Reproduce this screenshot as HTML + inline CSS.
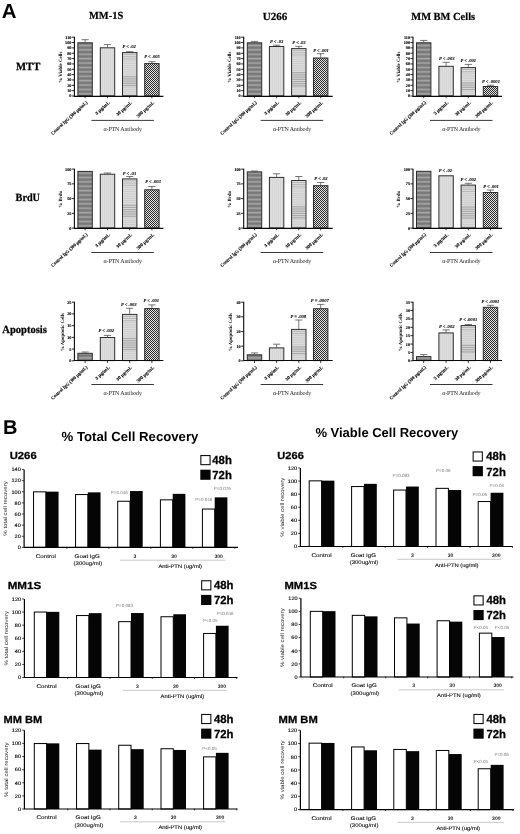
<!DOCTYPE html>
<html><head><meta charset="utf-8"><title>Figure</title>
<style>
html,body{margin:0;padding:0;background:#fff;}
body{width:520px;height:834px;overflow:hidden;font-family:"Liberation Sans",sans-serif;}
svg{display:block;}
</style></head><body>
<svg width="520" height="834" viewBox="0 0 520 834" text-rendering="geometricPrecision">
<defs>
<filter id="soft" x="0" y="0" width="100%" height="100%" filterUnits="userSpaceOnUse" color-interpolation-filters="sRGB"><feGaussianBlur stdDeviation="0.32"/></filter>
<pattern id="p1" width="4" height="4.4" patternUnits="userSpaceOnUse"><rect width="4" height="4.4" fill="#787878"/><rect y="0.6" width="4" height="1.7" fill="#a6a6a6"/></pattern>
<pattern id="p2" width="2" height="4" patternUnits="userSpaceOnUse"><rect width="2" height="4" fill="#dedede"/><rect width="0.6" height="4" fill="#d2d2d2"/></pattern>
<pattern id="p3" width="4" height="2.4" patternUnits="userSpaceOnUse"><rect width="4" height="2.4" fill="#dcdcdc"/><rect width="4" height="0.7" fill="#bdbdbd"/></pattern>
<pattern id="p4" width="2" height="2" patternUnits="userSpaceOnUse"><rect width="2" height="2" fill="#e2e2e2"/><rect width="1" height="1" fill="#2b2b2b"/><rect x="1" y="1" width="1" height="1" fill="#2b2b2b"/></pattern>
</defs>
<rect width="520" height="834" fill="#fff"/>
<g filter="url(#soft)">
<g>
<path d="M85.10 42.30V39.70M81.50 39.70H88.70" stroke="#4a4a4a" stroke-width="0.75" fill="none"/>
<rect x="77.90" y="42.80" width="14.40" height="53.00" fill="url(#p1)" stroke="#2e2e2e" stroke-width="1"/>
<path d="M85.10 96.00v2.2" stroke="#111" stroke-width="0.8"/>
<path d="M107.50 47.30V44.60M103.90 44.60H111.10" stroke="#4a4a4a" stroke-width="0.75" fill="none"/>
<rect x="100.30" y="47.80" width="14.40" height="48.00" fill="url(#p2)" stroke="#2e2e2e" stroke-width="1"/>
<path d="M107.50 96.00v2.2" stroke="#111" stroke-width="0.8"/>
<path d="M129.70 52.10V51.70M126.10 51.70H133.30" stroke="#4a4a4a" stroke-width="0.75" fill="none"/>
<rect x="122.50" y="52.60" width="14.40" height="43.20" fill="#dcdcdc"/>
<rect x="123.00" y="54.10" width="13.40" height="0.9" fill="#b4b4b4"/>
<rect x="123.00" y="56.30" width="13.40" height="0.9" fill="#b4b4b4"/>
<rect x="123.00" y="58.50" width="13.40" height="0.9" fill="#b4b4b4"/>
<rect x="123.00" y="60.70" width="13.40" height="0.6" fill="#c4c4c4"/>
<rect x="123.00" y="62.90" width="13.40" height="0.6" fill="#c4c4c4"/>
<rect x="123.00" y="65.10" width="13.40" height="0.6" fill="#c4c4c4"/>
<rect x="123.00" y="67.30" width="13.40" height="0.6" fill="#c4c4c4"/>
<rect x="123.00" y="69.50" width="13.40" height="0.6" fill="#c4c4c4"/>
<rect x="123.00" y="71.70" width="13.40" height="0.6" fill="#c4c4c4"/>
<rect x="123.00" y="73.90" width="13.40" height="0.6" fill="#c4c4c4"/>
<rect x="123.00" y="76.10" width="13.40" height="1.25" fill="#a9a9a9"/>
<rect x="123.00" y="78.30" width="13.40" height="1.25" fill="#a9a9a9"/>
<rect x="123.00" y="80.50" width="13.40" height="1.25" fill="#a9a9a9"/>
<rect x="123.00" y="82.70" width="13.40" height="1.25" fill="#a9a9a9"/>
<rect x="123.00" y="84.90" width="13.40" height="1.25" fill="#a9a9a9"/>
<rect x="123.00" y="87.10" width="13.40" height="0.6" fill="#c4c4c4"/>
<rect x="123.00" y="89.30" width="13.40" height="0.6" fill="#c4c4c4"/>
<rect x="123.00" y="91.50" width="13.40" height="0.6" fill="#c4c4c4"/>
<rect x="123.00" y="93.70" width="13.40" height="0.6" fill="#c4c4c4"/>
<rect x="122.50" y="52.60" width="14.40" height="43.20" fill="none" stroke="#2e2e2e" stroke-width="1"/>
<path d="M129.70 96.00v2.2" stroke="#111" stroke-width="0.8"/>
<path d="M151.90 63.10V61.70M148.30 61.70H155.50" stroke="#4a4a4a" stroke-width="0.75" fill="none"/>
<rect x="144.70" y="63.60" width="14.40" height="32.20" fill="url(#p4)" stroke="#2e2e2e" stroke-width="1"/>
<path d="M151.90 96.00v2.2" stroke="#111" stroke-width="0.8"/>
<path d="M74.40 36.80V96.35H163.40" stroke="#0a0a0a" stroke-width="1.1" fill="none"/>
<path d="M71.80 96.00H74.40" stroke="#111" stroke-width="0.9"/>
<text x="71.40" y="97.45" font-family="Liberation Serif, serif" font-size="4.2" font-weight="bold" text-anchor="end" fill="#000" stroke="#000" stroke-width="0.12" style="">0</text>
<path d="M71.80 90.65H74.40" stroke="#111" stroke-width="0.9"/>
<text x="71.40" y="92.10" font-family="Liberation Serif, serif" font-size="4.2" font-weight="bold" text-anchor="end" fill="#000" stroke="#000" stroke-width="0.12" style="">10</text>
<path d="M71.80 85.31H74.40" stroke="#111" stroke-width="0.9"/>
<text x="71.40" y="86.76" font-family="Liberation Serif, serif" font-size="4.2" font-weight="bold" text-anchor="end" fill="#000" stroke="#000" stroke-width="0.12" style="">20</text>
<path d="M71.80 79.96H74.40" stroke="#111" stroke-width="0.9"/>
<text x="71.40" y="81.41" font-family="Liberation Serif, serif" font-size="4.2" font-weight="bold" text-anchor="end" fill="#000" stroke="#000" stroke-width="0.12" style="">30</text>
<path d="M71.80 74.62H74.40" stroke="#111" stroke-width="0.9"/>
<text x="71.40" y="76.07" font-family="Liberation Serif, serif" font-size="4.2" font-weight="bold" text-anchor="end" fill="#000" stroke="#000" stroke-width="0.12" style="">40</text>
<path d="M71.80 69.27H74.40" stroke="#111" stroke-width="0.9"/>
<text x="71.40" y="70.72" font-family="Liberation Serif, serif" font-size="4.2" font-weight="bold" text-anchor="end" fill="#000" stroke="#000" stroke-width="0.12" style="">50</text>
<path d="M71.80 63.93H74.40" stroke="#111" stroke-width="0.9"/>
<text x="71.40" y="65.38" font-family="Liberation Serif, serif" font-size="4.2" font-weight="bold" text-anchor="end" fill="#000" stroke="#000" stroke-width="0.12" style="">60</text>
<path d="M71.80 58.58H74.40" stroke="#111" stroke-width="0.9"/>
<text x="71.40" y="60.03" font-family="Liberation Serif, serif" font-size="4.2" font-weight="bold" text-anchor="end" fill="#000" stroke="#000" stroke-width="0.12" style="">70</text>
<path d="M71.80 53.24H74.40" stroke="#111" stroke-width="0.9"/>
<text x="71.40" y="54.69" font-family="Liberation Serif, serif" font-size="4.2" font-weight="bold" text-anchor="end" fill="#000" stroke="#000" stroke-width="0.12" style="">80</text>
<path d="M71.80 47.89H74.40" stroke="#111" stroke-width="0.9"/>
<text x="71.40" y="49.34" font-family="Liberation Serif, serif" font-size="4.2" font-weight="bold" text-anchor="end" fill="#000" stroke="#000" stroke-width="0.12" style="">90</text>
<path d="M71.80 42.55H74.40" stroke="#111" stroke-width="0.9"/>
<text x="71.40" y="44.00" font-family="Liberation Serif, serif" font-size="4.2" font-weight="bold" text-anchor="end" fill="#000" stroke="#000" stroke-width="0.12" style="">100</text>
<path d="M71.80 37.20H74.40" stroke="#111" stroke-width="0.9"/>
<text x="71.40" y="38.65" font-family="Liberation Serif, serif" font-size="4.2" font-weight="bold" text-anchor="end" fill="#000" stroke="#000" stroke-width="0.12" style="">110</text>
<text transform="translate(61.6,67.20) rotate(-90)" font-family="Liberation Serif, serif" font-size="4.9" font-weight="bold" text-anchor="middle" fill="#000" >% Viable Cells</text>
<text x="129.2" y="47.6" font-family="Liberation Serif, serif" font-size="4.6" font-weight="bold" text-anchor="middle" fill="#000" stroke="#000" stroke-width="0.08" style="font-style:italic">P &lt; .02</text>
<text x="152" y="58.0" font-family="Liberation Serif, serif" font-size="4.6" font-weight="bold" text-anchor="middle" fill="#000" stroke="#000" stroke-width="0.08" style="font-style:italic">P &lt; .005</text>
<text transform="translate(87.80,103.00) rotate(-42.5)" font-family="Liberation Serif, serif" font-size="4.8" font-weight="bold" text-anchor="end" fill="#000" textLength="47.6" lengthAdjust="spacingAndGlyphs" stroke="#000" stroke-width="0.1">Control IgG (300 µg/mL)</text>
<text transform="translate(110.20,103.00) rotate(-42.5)" font-family="Liberation Serif, serif" font-size="4.8" font-weight="bold" text-anchor="end" fill="#000" textLength="18.3" lengthAdjust="spacingAndGlyphs" stroke="#000" stroke-width="0.1">3 µg/mL</text>
<text transform="translate(132.40,103.00) rotate(-42.5)" font-family="Liberation Serif, serif" font-size="4.8" font-weight="bold" text-anchor="end" fill="#000" textLength="19.8" lengthAdjust="spacingAndGlyphs" stroke="#000" stroke-width="0.1">30 µg/mL</text>
<text transform="translate(154.60,103.00) rotate(-42.5)" font-family="Liberation Serif, serif" font-size="4.8" font-weight="bold" text-anchor="end" fill="#000" textLength="22.2" lengthAdjust="spacingAndGlyphs" stroke="#000" stroke-width="0.1">300 µg/mL</text>
<path d="M91.40 120.40H153.90" stroke="#222" stroke-width="0.9"/>
<text x="122.70" y="130.70" font-family="Liberation Serif, serif" font-size="6" font-weight="normal" text-anchor="middle" fill="#222" letter-spacing="-0.15" style="">α-PTN Antibody</text>
</g>
<g>
<path d="M254.50 42.30V41.40M250.90 41.40H258.10" stroke="#4a4a4a" stroke-width="0.75" fill="none"/>
<rect x="247.30" y="42.80" width="14.40" height="53.00" fill="url(#p1)" stroke="#2e2e2e" stroke-width="1"/>
<path d="M254.50 96.00v2.2" stroke="#111" stroke-width="0.8"/>
<path d="M276.60 46.00V45.20M273.00 45.20H280.20" stroke="#4a4a4a" stroke-width="0.75" fill="none"/>
<rect x="269.40" y="46.50" width="14.40" height="49.30" fill="url(#p2)" stroke="#2e2e2e" stroke-width="1"/>
<path d="M276.60 96.00v2.2" stroke="#111" stroke-width="0.8"/>
<path d="M298.80 48.10V46.40M295.20 46.40H302.40" stroke="#4a4a4a" stroke-width="0.75" fill="none"/>
<rect x="291.60" y="48.60" width="14.40" height="47.20" fill="#dcdcdc"/>
<rect x="292.10" y="50.10" width="13.40" height="0.9" fill="#b4b4b4"/>
<rect x="292.10" y="52.30" width="13.40" height="0.9" fill="#b4b4b4"/>
<rect x="292.10" y="54.50" width="13.40" height="0.9" fill="#b4b4b4"/>
<rect x="292.10" y="56.70" width="13.40" height="0.6" fill="#c4c4c4"/>
<rect x="292.10" y="58.90" width="13.40" height="0.6" fill="#c4c4c4"/>
<rect x="292.10" y="61.10" width="13.40" height="0.6" fill="#c4c4c4"/>
<rect x="292.10" y="63.30" width="13.40" height="0.6" fill="#c4c4c4"/>
<rect x="292.10" y="65.50" width="13.40" height="0.6" fill="#c4c4c4"/>
<rect x="292.10" y="67.70" width="13.40" height="0.6" fill="#c4c4c4"/>
<rect x="292.10" y="69.90" width="13.40" height="0.6" fill="#c4c4c4"/>
<rect x="292.10" y="72.10" width="13.40" height="1.25" fill="#a9a9a9"/>
<rect x="292.10" y="74.30" width="13.40" height="1.25" fill="#a9a9a9"/>
<rect x="292.10" y="76.50" width="13.40" height="1.25" fill="#a9a9a9"/>
<rect x="292.10" y="78.70" width="13.40" height="1.25" fill="#a9a9a9"/>
<rect x="292.10" y="80.90" width="13.40" height="1.25" fill="#a9a9a9"/>
<rect x="292.10" y="83.10" width="13.40" height="1.25" fill="#a9a9a9"/>
<rect x="292.10" y="85.30" width="13.40" height="1.25" fill="#a9a9a9"/>
<rect x="292.10" y="87.50" width="13.40" height="0.6" fill="#c4c4c4"/>
<rect x="292.10" y="89.70" width="13.40" height="0.6" fill="#c4c4c4"/>
<rect x="292.10" y="91.90" width="13.40" height="0.6" fill="#c4c4c4"/>
<rect x="292.10" y="94.10" width="13.40" height="0.6" fill="#c4c4c4"/>
<rect x="291.60" y="48.60" width="14.40" height="47.20" fill="none" stroke="#2e2e2e" stroke-width="1"/>
<path d="M298.80 96.00v2.2" stroke="#111" stroke-width="0.8"/>
<path d="M320.70 57.50V53.70M317.10 53.70H324.30" stroke="#4a4a4a" stroke-width="0.75" fill="none"/>
<rect x="313.50" y="58.00" width="14.40" height="37.80" fill="url(#p4)" stroke="#2e2e2e" stroke-width="1"/>
<path d="M320.70 96.00v2.2" stroke="#111" stroke-width="0.8"/>
<path d="M243.70 36.80V96.35H332.70" stroke="#0a0a0a" stroke-width="1.1" fill="none"/>
<path d="M241.10 96.00H243.70" stroke="#111" stroke-width="0.9"/>
<text x="240.70" y="97.45" font-family="Liberation Serif, serif" font-size="4.2" font-weight="bold" text-anchor="end" fill="#000" stroke="#000" stroke-width="0.12" style="">0</text>
<path d="M241.10 90.65H243.70" stroke="#111" stroke-width="0.9"/>
<text x="240.70" y="92.10" font-family="Liberation Serif, serif" font-size="4.2" font-weight="bold" text-anchor="end" fill="#000" stroke="#000" stroke-width="0.12" style="">10</text>
<path d="M241.10 85.31H243.70" stroke="#111" stroke-width="0.9"/>
<text x="240.70" y="86.76" font-family="Liberation Serif, serif" font-size="4.2" font-weight="bold" text-anchor="end" fill="#000" stroke="#000" stroke-width="0.12" style="">20</text>
<path d="M241.10 79.96H243.70" stroke="#111" stroke-width="0.9"/>
<text x="240.70" y="81.41" font-family="Liberation Serif, serif" font-size="4.2" font-weight="bold" text-anchor="end" fill="#000" stroke="#000" stroke-width="0.12" style="">30</text>
<path d="M241.10 74.62H243.70" stroke="#111" stroke-width="0.9"/>
<text x="240.70" y="76.07" font-family="Liberation Serif, serif" font-size="4.2" font-weight="bold" text-anchor="end" fill="#000" stroke="#000" stroke-width="0.12" style="">40</text>
<path d="M241.10 69.27H243.70" stroke="#111" stroke-width="0.9"/>
<text x="240.70" y="70.72" font-family="Liberation Serif, serif" font-size="4.2" font-weight="bold" text-anchor="end" fill="#000" stroke="#000" stroke-width="0.12" style="">50</text>
<path d="M241.10 63.93H243.70" stroke="#111" stroke-width="0.9"/>
<text x="240.70" y="65.38" font-family="Liberation Serif, serif" font-size="4.2" font-weight="bold" text-anchor="end" fill="#000" stroke="#000" stroke-width="0.12" style="">60</text>
<path d="M241.10 58.58H243.70" stroke="#111" stroke-width="0.9"/>
<text x="240.70" y="60.03" font-family="Liberation Serif, serif" font-size="4.2" font-weight="bold" text-anchor="end" fill="#000" stroke="#000" stroke-width="0.12" style="">70</text>
<path d="M241.10 53.24H243.70" stroke="#111" stroke-width="0.9"/>
<text x="240.70" y="54.69" font-family="Liberation Serif, serif" font-size="4.2" font-weight="bold" text-anchor="end" fill="#000" stroke="#000" stroke-width="0.12" style="">80</text>
<path d="M241.10 47.89H243.70" stroke="#111" stroke-width="0.9"/>
<text x="240.70" y="49.34" font-family="Liberation Serif, serif" font-size="4.2" font-weight="bold" text-anchor="end" fill="#000" stroke="#000" stroke-width="0.12" style="">90</text>
<path d="M241.10 42.55H243.70" stroke="#111" stroke-width="0.9"/>
<text x="240.70" y="44.00" font-family="Liberation Serif, serif" font-size="4.2" font-weight="bold" text-anchor="end" fill="#000" stroke="#000" stroke-width="0.12" style="">100</text>
<path d="M241.10 37.20H243.70" stroke="#111" stroke-width="0.9"/>
<text x="240.70" y="38.65" font-family="Liberation Serif, serif" font-size="4.2" font-weight="bold" text-anchor="end" fill="#000" stroke="#000" stroke-width="0.12" style="">110</text>
<text transform="translate(230.6,67.20) rotate(-90)" font-family="Liberation Serif, serif" font-size="4.9" font-weight="bold" text-anchor="middle" fill="#000" >% Viable Cells</text>
<text x="276.7" y="43.0" font-family="Liberation Serif, serif" font-size="4.6" font-weight="bold" text-anchor="middle" fill="#000" stroke="#000" stroke-width="0.08" style="font-style:italic">P &lt; .03</text>
<text x="299" y="44.0" font-family="Liberation Serif, serif" font-size="4.6" font-weight="bold" text-anchor="middle" fill="#000" stroke="#000" stroke-width="0.08" style="font-style:italic">P &lt; .03</text>
<text x="321" y="51.6" font-family="Liberation Serif, serif" font-size="4.6" font-weight="bold" text-anchor="middle" fill="#000" stroke="#000" stroke-width="0.08" style="font-style:italic">P &lt; .001</text>
<text transform="translate(257.20,103.00) rotate(-42.5)" font-family="Liberation Serif, serif" font-size="4.8" font-weight="bold" text-anchor="end" fill="#000" textLength="47.6" lengthAdjust="spacingAndGlyphs" stroke="#000" stroke-width="0.1">Control IgG (300 µg/mL)</text>
<text transform="translate(279.30,103.00) rotate(-42.5)" font-family="Liberation Serif, serif" font-size="4.8" font-weight="bold" text-anchor="end" fill="#000" textLength="18.3" lengthAdjust="spacingAndGlyphs" stroke="#000" stroke-width="0.1">3 µg/mL</text>
<text transform="translate(301.50,103.00) rotate(-42.5)" font-family="Liberation Serif, serif" font-size="4.8" font-weight="bold" text-anchor="end" fill="#000" textLength="19.8" lengthAdjust="spacingAndGlyphs" stroke="#000" stroke-width="0.1">30 µg/mL</text>
<text transform="translate(323.40,103.00) rotate(-42.5)" font-family="Liberation Serif, serif" font-size="4.8" font-weight="bold" text-anchor="end" fill="#000" textLength="22.2" lengthAdjust="spacingAndGlyphs" stroke="#000" stroke-width="0.1">300 µg/mL</text>
<path d="M260.70 120.40H323.20" stroke="#222" stroke-width="0.9"/>
<text x="292.00" y="130.70" font-family="Liberation Serif, serif" font-size="6" font-weight="normal" text-anchor="middle" fill="#222" letter-spacing="-0.15" style="">α-PTN Antibody</text>
</g>
<g>
<path d="M423.70 42.30V40.40M420.10 40.40H427.30" stroke="#4a4a4a" stroke-width="0.75" fill="none"/>
<rect x="416.50" y="42.80" width="14.40" height="53.00" fill="url(#p1)" stroke="#2e2e2e" stroke-width="1"/>
<path d="M423.70 96.00v2.2" stroke="#111" stroke-width="0.8"/>
<path d="M446.10 65.80V62.30M442.50 62.30H449.70" stroke="#4a4a4a" stroke-width="0.75" fill="none"/>
<rect x="438.90" y="66.30" width="14.40" height="29.50" fill="url(#p2)" stroke="#2e2e2e" stroke-width="1"/>
<path d="M446.10 96.00v2.2" stroke="#111" stroke-width="0.8"/>
<path d="M468.30 67.10V64.40M464.70 64.40H471.90" stroke="#4a4a4a" stroke-width="0.75" fill="none"/>
<rect x="461.10" y="67.60" width="14.40" height="28.20" fill="#dcdcdc"/>
<rect x="461.60" y="69.10" width="13.40" height="0.9" fill="#b4b4b4"/>
<rect x="461.60" y="71.30" width="13.40" height="0.9" fill="#b4b4b4"/>
<rect x="461.60" y="73.50" width="13.40" height="0.6" fill="#c4c4c4"/>
<rect x="461.60" y="75.70" width="13.40" height="0.6" fill="#c4c4c4"/>
<rect x="461.60" y="77.90" width="13.40" height="0.6" fill="#c4c4c4"/>
<rect x="461.60" y="80.10" width="13.40" height="0.6" fill="#c4c4c4"/>
<rect x="461.60" y="82.30" width="13.40" height="1.25" fill="#a9a9a9"/>
<rect x="461.60" y="84.50" width="13.40" height="1.25" fill="#a9a9a9"/>
<rect x="461.60" y="86.70" width="13.40" height="1.25" fill="#a9a9a9"/>
<rect x="461.60" y="88.90" width="13.40" height="1.25" fill="#a9a9a9"/>
<rect x="461.60" y="91.10" width="13.40" height="0.6" fill="#c4c4c4"/>
<rect x="461.60" y="93.30" width="13.40" height="0.6" fill="#c4c4c4"/>
<rect x="461.10" y="67.60" width="14.40" height="28.20" fill="none" stroke="#2e2e2e" stroke-width="1"/>
<path d="M468.30 96.00v2.2" stroke="#111" stroke-width="0.8"/>
<path d="M490.50 86.00V85.20M486.90 85.20H494.10" stroke="#4a4a4a" stroke-width="0.75" fill="none"/>
<rect x="483.30" y="86.50" width="14.40" height="9.30" fill="url(#p4)" stroke="#2e2e2e" stroke-width="1"/>
<path d="M490.50 96.00v2.2" stroke="#111" stroke-width="0.8"/>
<path d="M413.00 36.80V96.35H502.00" stroke="#0a0a0a" stroke-width="1.1" fill="none"/>
<path d="M410.40 96.00H413.00" stroke="#111" stroke-width="0.9"/>
<text x="410.00" y="97.45" font-family="Liberation Serif, serif" font-size="4.2" font-weight="bold" text-anchor="end" fill="#000" stroke="#000" stroke-width="0.12" style="">0</text>
<path d="M410.40 90.65H413.00" stroke="#111" stroke-width="0.9"/>
<text x="410.00" y="92.10" font-family="Liberation Serif, serif" font-size="4.2" font-weight="bold" text-anchor="end" fill="#000" stroke="#000" stroke-width="0.12" style="">10</text>
<path d="M410.40 85.31H413.00" stroke="#111" stroke-width="0.9"/>
<text x="410.00" y="86.76" font-family="Liberation Serif, serif" font-size="4.2" font-weight="bold" text-anchor="end" fill="#000" stroke="#000" stroke-width="0.12" style="">20</text>
<path d="M410.40 79.96H413.00" stroke="#111" stroke-width="0.9"/>
<text x="410.00" y="81.41" font-family="Liberation Serif, serif" font-size="4.2" font-weight="bold" text-anchor="end" fill="#000" stroke="#000" stroke-width="0.12" style="">30</text>
<path d="M410.40 74.62H413.00" stroke="#111" stroke-width="0.9"/>
<text x="410.00" y="76.07" font-family="Liberation Serif, serif" font-size="4.2" font-weight="bold" text-anchor="end" fill="#000" stroke="#000" stroke-width="0.12" style="">40</text>
<path d="M410.40 69.27H413.00" stroke="#111" stroke-width="0.9"/>
<text x="410.00" y="70.72" font-family="Liberation Serif, serif" font-size="4.2" font-weight="bold" text-anchor="end" fill="#000" stroke="#000" stroke-width="0.12" style="">50</text>
<path d="M410.40 63.93H413.00" stroke="#111" stroke-width="0.9"/>
<text x="410.00" y="65.38" font-family="Liberation Serif, serif" font-size="4.2" font-weight="bold" text-anchor="end" fill="#000" stroke="#000" stroke-width="0.12" style="">60</text>
<path d="M410.40 58.58H413.00" stroke="#111" stroke-width="0.9"/>
<text x="410.00" y="60.03" font-family="Liberation Serif, serif" font-size="4.2" font-weight="bold" text-anchor="end" fill="#000" stroke="#000" stroke-width="0.12" style="">70</text>
<path d="M410.40 53.24H413.00" stroke="#111" stroke-width="0.9"/>
<text x="410.00" y="54.69" font-family="Liberation Serif, serif" font-size="4.2" font-weight="bold" text-anchor="end" fill="#000" stroke="#000" stroke-width="0.12" style="">80</text>
<path d="M410.40 47.89H413.00" stroke="#111" stroke-width="0.9"/>
<text x="410.00" y="49.34" font-family="Liberation Serif, serif" font-size="4.2" font-weight="bold" text-anchor="end" fill="#000" stroke="#000" stroke-width="0.12" style="">90</text>
<path d="M410.40 42.55H413.00" stroke="#111" stroke-width="0.9"/>
<text x="410.00" y="44.00" font-family="Liberation Serif, serif" font-size="4.2" font-weight="bold" text-anchor="end" fill="#000" stroke="#000" stroke-width="0.12" style="">100</text>
<path d="M410.40 37.20H413.00" stroke="#111" stroke-width="0.9"/>
<text x="410.00" y="38.65" font-family="Liberation Serif, serif" font-size="4.2" font-weight="bold" text-anchor="end" fill="#000" stroke="#000" stroke-width="0.12" style="">110</text>
<text transform="translate(400.4,67.20) rotate(-90)" font-family="Liberation Serif, serif" font-size="4.9" font-weight="bold" text-anchor="middle" fill="#000" >% Viable Cells</text>
<text x="446.7" y="60.4" font-family="Liberation Serif, serif" font-size="4.6" font-weight="bold" text-anchor="middle" fill="#000" stroke="#000" stroke-width="0.08" style="font-style:italic">P &lt; .003</text>
<text x="468.3" y="61.8" font-family="Liberation Serif, serif" font-size="4.6" font-weight="bold" text-anchor="middle" fill="#000" stroke="#000" stroke-width="0.08" style="font-style:italic">P &lt; .001</text>
<text x="491" y="82.8" font-family="Liberation Serif, serif" font-size="4.6" font-weight="bold" text-anchor="middle" fill="#000" stroke="#000" stroke-width="0.08" style="font-style:italic">P &lt; .0001</text>
<text transform="translate(426.40,103.00) rotate(-42.5)" font-family="Liberation Serif, serif" font-size="4.8" font-weight="bold" text-anchor="end" fill="#000" textLength="47.6" lengthAdjust="spacingAndGlyphs" stroke="#000" stroke-width="0.1">Control IgG (300 µg/mL)</text>
<text transform="translate(448.80,103.00) rotate(-42.5)" font-family="Liberation Serif, serif" font-size="4.8" font-weight="bold" text-anchor="end" fill="#000" textLength="18.3" lengthAdjust="spacingAndGlyphs" stroke="#000" stroke-width="0.1">3 µg/mL</text>
<text transform="translate(471.00,103.00) rotate(-42.5)" font-family="Liberation Serif, serif" font-size="4.8" font-weight="bold" text-anchor="end" fill="#000" textLength="19.8" lengthAdjust="spacingAndGlyphs" stroke="#000" stroke-width="0.1">30 µg/mL</text>
<text transform="translate(493.20,103.00) rotate(-42.5)" font-family="Liberation Serif, serif" font-size="4.8" font-weight="bold" text-anchor="end" fill="#000" textLength="22.2" lengthAdjust="spacingAndGlyphs" stroke="#000" stroke-width="0.1">300 µg/mL</text>
<path d="M430.00 120.40H492.50" stroke="#222" stroke-width="0.9"/>
<text x="461.30" y="130.70" font-family="Liberation Serif, serif" font-size="6" font-weight="normal" text-anchor="middle" fill="#222" letter-spacing="-0.15" style="">α-PTN Antibody</text>
</g>
<g>
<rect x="77.90" y="171.40" width="14.40" height="56.50" fill="url(#p1)" stroke="#2e2e2e" stroke-width="1"/>
<path d="M85.10 228.10v2.2" stroke="#111" stroke-width="0.8"/>
<path d="M107.50 173.70V173.00M103.90 173.00H111.10" stroke="#4a4a4a" stroke-width="0.75" fill="none"/>
<rect x="100.30" y="174.20" width="14.40" height="53.70" fill="url(#p2)" stroke="#2e2e2e" stroke-width="1"/>
<path d="M107.50 228.10v2.2" stroke="#111" stroke-width="0.8"/>
<path d="M129.70 178.40V176.50M126.10 176.50H133.30" stroke="#4a4a4a" stroke-width="0.75" fill="none"/>
<rect x="122.50" y="178.90" width="14.40" height="49.00" fill="#dcdcdc"/>
<rect x="123.00" y="180.40" width="13.40" height="0.9" fill="#b4b4b4"/>
<rect x="123.00" y="182.60" width="13.40" height="0.9" fill="#b4b4b4"/>
<rect x="123.00" y="184.80" width="13.40" height="0.9" fill="#b4b4b4"/>
<rect x="123.00" y="187.00" width="13.40" height="0.6" fill="#c4c4c4"/>
<rect x="123.00" y="189.20" width="13.40" height="0.6" fill="#c4c4c4"/>
<rect x="123.00" y="191.40" width="13.40" height="0.6" fill="#c4c4c4"/>
<rect x="123.00" y="193.60" width="13.40" height="0.6" fill="#c4c4c4"/>
<rect x="123.00" y="195.80" width="13.40" height="0.6" fill="#c4c4c4"/>
<rect x="123.00" y="198.00" width="13.40" height="0.6" fill="#c4c4c4"/>
<rect x="123.00" y="200.20" width="13.40" height="0.6" fill="#c4c4c4"/>
<rect x="123.00" y="202.40" width="13.40" height="0.6" fill="#c4c4c4"/>
<rect x="123.00" y="204.60" width="13.40" height="1.25" fill="#a9a9a9"/>
<rect x="123.00" y="206.80" width="13.40" height="1.25" fill="#a9a9a9"/>
<rect x="123.00" y="209.00" width="13.40" height="1.25" fill="#a9a9a9"/>
<rect x="123.00" y="211.20" width="13.40" height="1.25" fill="#a9a9a9"/>
<rect x="123.00" y="213.40" width="13.40" height="1.25" fill="#a9a9a9"/>
<rect x="123.00" y="215.60" width="13.40" height="1.25" fill="#a9a9a9"/>
<rect x="123.00" y="217.80" width="13.40" height="0.6" fill="#c4c4c4"/>
<rect x="123.00" y="220.00" width="13.40" height="0.6" fill="#c4c4c4"/>
<rect x="123.00" y="222.20" width="13.40" height="0.6" fill="#c4c4c4"/>
<rect x="123.00" y="224.40" width="13.40" height="0.6" fill="#c4c4c4"/>
<rect x="123.00" y="226.60" width="13.40" height="0.6" fill="#c4c4c4"/>
<rect x="122.50" y="178.90" width="14.40" height="49.00" fill="none" stroke="#2e2e2e" stroke-width="1"/>
<path d="M129.70 228.10v2.2" stroke="#111" stroke-width="0.8"/>
<path d="M151.90 189.30V186.50M148.30 186.50H155.50" stroke="#4a4a4a" stroke-width="0.75" fill="none"/>
<rect x="144.70" y="189.80" width="14.40" height="38.10" fill="url(#p4)" stroke="#2e2e2e" stroke-width="1"/>
<path d="M151.90 228.10v2.2" stroke="#111" stroke-width="0.8"/>
<path d="M74.40 168.70V228.35H163.40" stroke="#0a0a0a" stroke-width="1.1" fill="none"/>
<path d="M71.80 228.10H74.40" stroke="#111" stroke-width="0.9"/>
<text x="71.40" y="229.55" font-family="Liberation Serif, serif" font-size="4.2" font-weight="bold" text-anchor="end" fill="#000" stroke="#000" stroke-width="0.12" style="">0</text>
<path d="M71.80 213.35H74.40" stroke="#111" stroke-width="0.9"/>
<text x="71.40" y="214.80" font-family="Liberation Serif, serif" font-size="4.2" font-weight="bold" text-anchor="end" fill="#000" stroke="#000" stroke-width="0.12" style="">25</text>
<path d="M71.80 198.60H74.40" stroke="#111" stroke-width="0.9"/>
<text x="71.40" y="200.05" font-family="Liberation Serif, serif" font-size="4.2" font-weight="bold" text-anchor="end" fill="#000" stroke="#000" stroke-width="0.12" style="">50</text>
<path d="M71.80 183.85H74.40" stroke="#111" stroke-width="0.9"/>
<text x="71.40" y="185.30" font-family="Liberation Serif, serif" font-size="4.2" font-weight="bold" text-anchor="end" fill="#000" stroke="#000" stroke-width="0.12" style="">75</text>
<path d="M71.80 169.10H74.40" stroke="#111" stroke-width="0.9"/>
<text x="71.40" y="170.55" font-family="Liberation Serif, serif" font-size="4.2" font-weight="bold" text-anchor="end" fill="#000" stroke="#000" stroke-width="0.12" style="">100</text>
<text transform="translate(61.6,199.20) rotate(-90)" font-family="Liberation Serif, serif" font-size="4.9" font-weight="bold" text-anchor="middle" fill="#000" >% Brdu</text>
<text x="129.4" y="174.7" font-family="Liberation Serif, serif" font-size="4.6" font-weight="bold" text-anchor="middle" fill="#000" stroke="#000" stroke-width="0.08" style="font-style:italic">P &lt; .03</text>
<text x="153" y="183.4" font-family="Liberation Serif, serif" font-size="4.6" font-weight="bold" text-anchor="middle" fill="#000" stroke="#000" stroke-width="0.08" style="font-style:italic">P &lt; .003</text>
<text transform="translate(87.80,235.10) rotate(-42.5)" font-family="Liberation Serif, serif" font-size="4.8" font-weight="bold" text-anchor="end" fill="#000" textLength="47.6" lengthAdjust="spacingAndGlyphs" stroke="#000" stroke-width="0.1">Control IgG (300 µg/mL)</text>
<text transform="translate(110.20,235.10) rotate(-42.5)" font-family="Liberation Serif, serif" font-size="4.8" font-weight="bold" text-anchor="end" fill="#000" textLength="18.3" lengthAdjust="spacingAndGlyphs" stroke="#000" stroke-width="0.1">3 µg/mL</text>
<text transform="translate(132.40,235.10) rotate(-42.5)" font-family="Liberation Serif, serif" font-size="4.8" font-weight="bold" text-anchor="end" fill="#000" textLength="19.8" lengthAdjust="spacingAndGlyphs" stroke="#000" stroke-width="0.1">30 µg/mL</text>
<text transform="translate(154.60,235.10) rotate(-42.5)" font-family="Liberation Serif, serif" font-size="4.8" font-weight="bold" text-anchor="end" fill="#000" textLength="22.2" lengthAdjust="spacingAndGlyphs" stroke="#000" stroke-width="0.1">300 µg/mL</text>
<path d="M91.40 252.50H153.90" stroke="#222" stroke-width="0.9"/>
<text x="122.70" y="262.80" font-family="Liberation Serif, serif" font-size="6" font-weight="normal" text-anchor="middle" fill="#222" letter-spacing="-0.15" style="">α-PTN Antibody</text>
</g>
<g>
<path d="M254.50 171.40V171.00M250.90 171.00H258.10" stroke="#4a4a4a" stroke-width="0.75" fill="none"/>
<rect x="247.30" y="171.90" width="14.40" height="56.00" fill="url(#p1)" stroke="#2e2e2e" stroke-width="1"/>
<path d="M254.50 228.10v2.2" stroke="#111" stroke-width="0.8"/>
<path d="M276.60 176.90V173.80M273.00 173.80H280.20" stroke="#4a4a4a" stroke-width="0.75" fill="none"/>
<rect x="269.40" y="177.40" width="14.40" height="50.50" fill="url(#p2)" stroke="#2e2e2e" stroke-width="1"/>
<path d="M276.60 228.10v2.2" stroke="#111" stroke-width="0.8"/>
<path d="M298.80 180.00V176.50M295.20 176.50H302.40" stroke="#4a4a4a" stroke-width="0.75" fill="none"/>
<rect x="291.60" y="180.50" width="14.40" height="47.40" fill="#dcdcdc"/>
<rect x="292.10" y="182.00" width="13.40" height="0.9" fill="#b4b4b4"/>
<rect x="292.10" y="184.20" width="13.40" height="0.9" fill="#b4b4b4"/>
<rect x="292.10" y="186.40" width="13.40" height="0.9" fill="#b4b4b4"/>
<rect x="292.10" y="188.60" width="13.40" height="0.6" fill="#c4c4c4"/>
<rect x="292.10" y="190.80" width="13.40" height="0.6" fill="#c4c4c4"/>
<rect x="292.10" y="193.00" width="13.40" height="0.6" fill="#c4c4c4"/>
<rect x="292.10" y="195.20" width="13.40" height="0.6" fill="#c4c4c4"/>
<rect x="292.10" y="197.40" width="13.40" height="0.6" fill="#c4c4c4"/>
<rect x="292.10" y="199.60" width="13.40" height="0.6" fill="#c4c4c4"/>
<rect x="292.10" y="201.80" width="13.40" height="0.6" fill="#c4c4c4"/>
<rect x="292.10" y="204.00" width="13.40" height="0.6" fill="#c4c4c4"/>
<rect x="292.10" y="206.20" width="13.40" height="1.25" fill="#a9a9a9"/>
<rect x="292.10" y="208.40" width="13.40" height="1.25" fill="#a9a9a9"/>
<rect x="292.10" y="210.60" width="13.40" height="1.25" fill="#a9a9a9"/>
<rect x="292.10" y="212.80" width="13.40" height="1.25" fill="#a9a9a9"/>
<rect x="292.10" y="215.00" width="13.40" height="1.25" fill="#a9a9a9"/>
<rect x="292.10" y="217.20" width="13.40" height="1.25" fill="#a9a9a9"/>
<rect x="292.10" y="219.40" width="13.40" height="0.6" fill="#c4c4c4"/>
<rect x="292.10" y="221.60" width="13.40" height="0.6" fill="#c4c4c4"/>
<rect x="292.10" y="223.80" width="13.40" height="0.6" fill="#c4c4c4"/>
<rect x="292.10" y="226.00" width="13.40" height="0.6" fill="#c4c4c4"/>
<rect x="291.60" y="180.50" width="14.40" height="47.40" fill="none" stroke="#2e2e2e" stroke-width="1"/>
<path d="M298.80 228.10v2.2" stroke="#111" stroke-width="0.8"/>
<path d="M320.70 185.20V182.50M317.10 182.50H324.30" stroke="#4a4a4a" stroke-width="0.75" fill="none"/>
<rect x="313.50" y="185.70" width="14.40" height="42.20" fill="url(#p4)" stroke="#2e2e2e" stroke-width="1"/>
<path d="M320.70 228.10v2.2" stroke="#111" stroke-width="0.8"/>
<path d="M243.70 168.70V228.35H332.70" stroke="#0a0a0a" stroke-width="1.1" fill="none"/>
<path d="M241.10 228.10H243.70" stroke="#111" stroke-width="0.9"/>
<text x="240.70" y="229.55" font-family="Liberation Serif, serif" font-size="4.2" font-weight="bold" text-anchor="end" fill="#000" stroke="#000" stroke-width="0.12" style="">0</text>
<path d="M241.10 213.35H243.70" stroke="#111" stroke-width="0.9"/>
<text x="240.70" y="214.80" font-family="Liberation Serif, serif" font-size="4.2" font-weight="bold" text-anchor="end" fill="#000" stroke="#000" stroke-width="0.12" style="">25</text>
<path d="M241.10 198.60H243.70" stroke="#111" stroke-width="0.9"/>
<text x="240.70" y="200.05" font-family="Liberation Serif, serif" font-size="4.2" font-weight="bold" text-anchor="end" fill="#000" stroke="#000" stroke-width="0.12" style="">50</text>
<path d="M241.10 183.85H243.70" stroke="#111" stroke-width="0.9"/>
<text x="240.70" y="185.30" font-family="Liberation Serif, serif" font-size="4.2" font-weight="bold" text-anchor="end" fill="#000" stroke="#000" stroke-width="0.12" style="">75</text>
<path d="M241.10 169.10H243.70" stroke="#111" stroke-width="0.9"/>
<text x="240.70" y="170.55" font-family="Liberation Serif, serif" font-size="4.2" font-weight="bold" text-anchor="end" fill="#000" stroke="#000" stroke-width="0.12" style="">100</text>
<text transform="translate(230.6,199.20) rotate(-90)" font-family="Liberation Serif, serif" font-size="4.9" font-weight="bold" text-anchor="middle" fill="#000" >% Brdu</text>
<text x="321" y="180.1" font-family="Liberation Serif, serif" font-size="4.6" font-weight="bold" text-anchor="middle" fill="#000" stroke="#000" stroke-width="0.08" style="font-style:italic">P &lt; .02</text>
<text transform="translate(257.20,235.10) rotate(-42.5)" font-family="Liberation Serif, serif" font-size="4.8" font-weight="bold" text-anchor="end" fill="#000" textLength="47.6" lengthAdjust="spacingAndGlyphs" stroke="#000" stroke-width="0.1">Control IgG (300 µg/mL)</text>
<text transform="translate(279.30,235.10) rotate(-42.5)" font-family="Liberation Serif, serif" font-size="4.8" font-weight="bold" text-anchor="end" fill="#000" textLength="18.3" lengthAdjust="spacingAndGlyphs" stroke="#000" stroke-width="0.1">3 µg/mL</text>
<text transform="translate(301.50,235.10) rotate(-42.5)" font-family="Liberation Serif, serif" font-size="4.8" font-weight="bold" text-anchor="end" fill="#000" textLength="19.8" lengthAdjust="spacingAndGlyphs" stroke="#000" stroke-width="0.1">30 µg/mL</text>
<text transform="translate(323.40,235.10) rotate(-42.5)" font-family="Liberation Serif, serif" font-size="4.8" font-weight="bold" text-anchor="end" fill="#000" textLength="22.2" lengthAdjust="spacingAndGlyphs" stroke="#000" stroke-width="0.1">300 µg/mL</text>
<path d="M260.70 252.50H323.20" stroke="#222" stroke-width="0.9"/>
<text x="292.00" y="262.80" font-family="Liberation Serif, serif" font-size="6" font-weight="normal" text-anchor="middle" fill="#222" letter-spacing="-0.15" style="">α-PTN Antibody</text>
</g>
<g>
<rect x="416.50" y="171.30" width="14.40" height="56.60" fill="url(#p1)" stroke="#2e2e2e" stroke-width="1"/>
<path d="M423.70 228.10v2.2" stroke="#111" stroke-width="0.8"/>
<rect x="438.90" y="175.80" width="14.40" height="52.10" fill="url(#p2)" stroke="#2e2e2e" stroke-width="1"/>
<path d="M446.10 228.10v2.2" stroke="#111" stroke-width="0.8"/>
<path d="M468.30 184.60V183.30M464.70 183.30H471.90" stroke="#4a4a4a" stroke-width="0.75" fill="none"/>
<rect x="461.10" y="185.10" width="14.40" height="42.80" fill="#dcdcdc"/>
<rect x="461.60" y="186.60" width="13.40" height="0.9" fill="#b4b4b4"/>
<rect x="461.60" y="188.80" width="13.40" height="0.9" fill="#b4b4b4"/>
<rect x="461.60" y="191.00" width="13.40" height="0.9" fill="#b4b4b4"/>
<rect x="461.60" y="193.20" width="13.40" height="0.6" fill="#c4c4c4"/>
<rect x="461.60" y="195.40" width="13.40" height="0.6" fill="#c4c4c4"/>
<rect x="461.60" y="197.60" width="13.40" height="0.6" fill="#c4c4c4"/>
<rect x="461.60" y="199.80" width="13.40" height="0.6" fill="#c4c4c4"/>
<rect x="461.60" y="202.00" width="13.40" height="0.6" fill="#c4c4c4"/>
<rect x="461.60" y="204.20" width="13.40" height="0.6" fill="#c4c4c4"/>
<rect x="461.60" y="206.40" width="13.40" height="1.25" fill="#a9a9a9"/>
<rect x="461.60" y="208.60" width="13.40" height="1.25" fill="#a9a9a9"/>
<rect x="461.60" y="210.80" width="13.40" height="1.25" fill="#a9a9a9"/>
<rect x="461.60" y="213.00" width="13.40" height="1.25" fill="#a9a9a9"/>
<rect x="461.60" y="215.20" width="13.40" height="1.25" fill="#a9a9a9"/>
<rect x="461.60" y="217.40" width="13.40" height="1.25" fill="#a9a9a9"/>
<rect x="461.60" y="219.60" width="13.40" height="0.6" fill="#c4c4c4"/>
<rect x="461.60" y="221.80" width="13.40" height="0.6" fill="#c4c4c4"/>
<rect x="461.60" y="224.00" width="13.40" height="0.6" fill="#c4c4c4"/>
<rect x="461.60" y="226.20" width="13.40" height="0.6" fill="#c4c4c4"/>
<rect x="461.10" y="185.10" width="14.40" height="42.80" fill="none" stroke="#2e2e2e" stroke-width="1"/>
<path d="M468.30 228.10v2.2" stroke="#111" stroke-width="0.8"/>
<path d="M490.50 192.00V190.00M486.90 190.00H494.10" stroke="#4a4a4a" stroke-width="0.75" fill="none"/>
<rect x="483.30" y="192.50" width="14.40" height="35.40" fill="url(#p4)" stroke="#2e2e2e" stroke-width="1"/>
<path d="M490.50 228.10v2.2" stroke="#111" stroke-width="0.8"/>
<path d="M413.00 168.70V228.35H502.00" stroke="#0a0a0a" stroke-width="1.1" fill="none"/>
<path d="M410.40 228.10H413.00" stroke="#111" stroke-width="0.9"/>
<text x="410.00" y="229.55" font-family="Liberation Serif, serif" font-size="4.2" font-weight="bold" text-anchor="end" fill="#000" stroke="#000" stroke-width="0.12" style="">0</text>
<path d="M410.40 213.35H413.00" stroke="#111" stroke-width="0.9"/>
<text x="410.00" y="214.80" font-family="Liberation Serif, serif" font-size="4.2" font-weight="bold" text-anchor="end" fill="#000" stroke="#000" stroke-width="0.12" style="">25</text>
<path d="M410.40 198.60H413.00" stroke="#111" stroke-width="0.9"/>
<text x="410.00" y="200.05" font-family="Liberation Serif, serif" font-size="4.2" font-weight="bold" text-anchor="end" fill="#000" stroke="#000" stroke-width="0.12" style="">50</text>
<path d="M410.40 183.85H413.00" stroke="#111" stroke-width="0.9"/>
<text x="410.00" y="185.30" font-family="Liberation Serif, serif" font-size="4.2" font-weight="bold" text-anchor="end" fill="#000" stroke="#000" stroke-width="0.12" style="">75</text>
<path d="M410.40 169.10H413.00" stroke="#111" stroke-width="0.9"/>
<text x="410.00" y="170.55" font-family="Liberation Serif, serif" font-size="4.2" font-weight="bold" text-anchor="end" fill="#000" stroke="#000" stroke-width="0.12" style="">100</text>
<text transform="translate(400.4,199.20) rotate(-90)" font-family="Liberation Serif, serif" font-size="4.9" font-weight="bold" text-anchor="middle" fill="#000" >% Brdu</text>
<text x="445.4" y="171.7" font-family="Liberation Serif, serif" font-size="4.6" font-weight="bold" text-anchor="middle" fill="#000" stroke="#000" stroke-width="0.08" style="font-style:italic">P &lt; .02</text>
<text x="468.3" y="181.2" font-family="Liberation Serif, serif" font-size="4.6" font-weight="bold" text-anchor="middle" fill="#000" stroke="#000" stroke-width="0.08" style="font-style:italic">P &lt; .002</text>
<text x="491" y="187.9" font-family="Liberation Serif, serif" font-size="4.6" font-weight="bold" text-anchor="middle" fill="#000" stroke="#000" stroke-width="0.08" style="font-style:italic">P &lt; .001</text>
<text transform="translate(426.40,235.10) rotate(-42.5)" font-family="Liberation Serif, serif" font-size="4.8" font-weight="bold" text-anchor="end" fill="#000" textLength="47.6" lengthAdjust="spacingAndGlyphs" stroke="#000" stroke-width="0.1">Control IgG (300 µg/mL)</text>
<text transform="translate(448.80,235.10) rotate(-42.5)" font-family="Liberation Serif, serif" font-size="4.8" font-weight="bold" text-anchor="end" fill="#000" textLength="18.3" lengthAdjust="spacingAndGlyphs" stroke="#000" stroke-width="0.1">3 µg/mL</text>
<text transform="translate(471.00,235.10) rotate(-42.5)" font-family="Liberation Serif, serif" font-size="4.8" font-weight="bold" text-anchor="end" fill="#000" textLength="19.8" lengthAdjust="spacingAndGlyphs" stroke="#000" stroke-width="0.1">30 µg/mL</text>
<text transform="translate(493.20,235.10) rotate(-42.5)" font-family="Liberation Serif, serif" font-size="4.8" font-weight="bold" text-anchor="end" fill="#000" textLength="22.2" lengthAdjust="spacingAndGlyphs" stroke="#000" stroke-width="0.1">300 µg/mL</text>
<path d="M430.00 252.50H492.50" stroke="#222" stroke-width="0.9"/>
<text x="461.30" y="262.80" font-family="Liberation Serif, serif" font-size="6" font-weight="normal" text-anchor="middle" fill="#222" letter-spacing="-0.15" style="">α-PTN Antibody</text>
</g>
<g>
<path d="M85.10 352.80V352.00M81.50 352.00H88.70" stroke="#4a4a4a" stroke-width="0.75" fill="none"/>
<rect x="77.90" y="353.30" width="14.40" height="7.30" fill="url(#p1)" stroke="#2e2e2e" stroke-width="1"/>
<path d="M85.10 360.80v2.2" stroke="#111" stroke-width="0.8"/>
<path d="M107.50 337.00V335.40M103.90 335.40H111.10" stroke="#4a4a4a" stroke-width="0.75" fill="none"/>
<rect x="100.30" y="337.50" width="14.40" height="23.10" fill="url(#p2)" stroke="#2e2e2e" stroke-width="1"/>
<path d="M107.50 360.80v2.2" stroke="#111" stroke-width="0.8"/>
<path d="M129.70 313.90V308.30M126.10 308.30H133.30" stroke="#4a4a4a" stroke-width="0.75" fill="none"/>
<rect x="122.50" y="314.40" width="14.40" height="46.20" fill="#dcdcdc"/>
<rect x="123.00" y="315.90" width="13.40" height="0.9" fill="#b4b4b4"/>
<rect x="123.00" y="318.10" width="13.40" height="0.9" fill="#b4b4b4"/>
<rect x="123.00" y="320.30" width="13.40" height="0.9" fill="#b4b4b4"/>
<rect x="123.00" y="322.50" width="13.40" height="0.6" fill="#c4c4c4"/>
<rect x="123.00" y="324.70" width="13.40" height="0.6" fill="#c4c4c4"/>
<rect x="123.00" y="326.90" width="13.40" height="0.6" fill="#c4c4c4"/>
<rect x="123.00" y="329.10" width="13.40" height="0.6" fill="#c4c4c4"/>
<rect x="123.00" y="331.30" width="13.40" height="0.6" fill="#c4c4c4"/>
<rect x="123.00" y="333.50" width="13.40" height="0.6" fill="#c4c4c4"/>
<rect x="123.00" y="335.70" width="13.40" height="0.6" fill="#c4c4c4"/>
<rect x="123.00" y="337.90" width="13.40" height="1.25" fill="#a9a9a9"/>
<rect x="123.00" y="340.10" width="13.40" height="1.25" fill="#a9a9a9"/>
<rect x="123.00" y="342.30" width="13.40" height="1.25" fill="#a9a9a9"/>
<rect x="123.00" y="344.50" width="13.40" height="1.25" fill="#a9a9a9"/>
<rect x="123.00" y="346.70" width="13.40" height="1.25" fill="#a9a9a9"/>
<rect x="123.00" y="348.90" width="13.40" height="1.25" fill="#a9a9a9"/>
<rect x="123.00" y="351.10" width="13.40" height="0.6" fill="#c4c4c4"/>
<rect x="123.00" y="353.30" width="13.40" height="0.6" fill="#c4c4c4"/>
<rect x="123.00" y="355.50" width="13.40" height="0.6" fill="#c4c4c4"/>
<rect x="123.00" y="357.70" width="13.40" height="0.6" fill="#c4c4c4"/>
<rect x="122.50" y="314.40" width="14.40" height="46.20" fill="none" stroke="#2e2e2e" stroke-width="1"/>
<path d="M129.70 360.80v2.2" stroke="#111" stroke-width="0.8"/>
<path d="M151.90 308.10V304.90M148.30 304.90H155.50" stroke="#4a4a4a" stroke-width="0.75" fill="none"/>
<rect x="144.70" y="308.60" width="14.40" height="52.00" fill="url(#p4)" stroke="#2e2e2e" stroke-width="1"/>
<path d="M151.90 360.80v2.2" stroke="#111" stroke-width="0.8"/>
<path d="M74.40 301.80V360.55H163.40" stroke="#0a0a0a" stroke-width="1.1" fill="none"/>
<path d="M71.80 360.80H74.40" stroke="#111" stroke-width="0.9"/>
<text x="71.40" y="362.25" font-family="Liberation Serif, serif" font-size="4.2" font-weight="bold" text-anchor="end" fill="#000" stroke="#000" stroke-width="0.12" style="">0</text>
<path d="M71.80 349.08H74.40" stroke="#111" stroke-width="0.9"/>
<text x="71.40" y="350.53" font-family="Liberation Serif, serif" font-size="4.2" font-weight="bold" text-anchor="end" fill="#000" stroke="#000" stroke-width="0.12" style="">5</text>
<path d="M71.80 337.36H74.40" stroke="#111" stroke-width="0.9"/>
<text x="71.40" y="338.81" font-family="Liberation Serif, serif" font-size="4.2" font-weight="bold" text-anchor="end" fill="#000" stroke="#000" stroke-width="0.12" style="">10</text>
<path d="M71.80 325.64H74.40" stroke="#111" stroke-width="0.9"/>
<text x="71.40" y="327.09" font-family="Liberation Serif, serif" font-size="4.2" font-weight="bold" text-anchor="end" fill="#000" stroke="#000" stroke-width="0.12" style="">15</text>
<path d="M71.80 313.92H74.40" stroke="#111" stroke-width="0.9"/>
<text x="71.40" y="315.37" font-family="Liberation Serif, serif" font-size="4.2" font-weight="bold" text-anchor="end" fill="#000" stroke="#000" stroke-width="0.12" style="">20</text>
<path d="M71.80 302.20H74.40" stroke="#111" stroke-width="0.9"/>
<text x="71.40" y="303.65" font-family="Liberation Serif, serif" font-size="4.2" font-weight="bold" text-anchor="end" fill="#000" stroke="#000" stroke-width="0.12" style="">25</text>
<text transform="translate(63.6,332.10) rotate(-90)" font-family="Liberation Serif, serif" font-size="4.9" font-weight="bold" text-anchor="middle" fill="#000" >% Apoptotic Cells</text>
<text x="106.3" y="332.4" font-family="Liberation Serif, serif" font-size="4.6" font-weight="bold" text-anchor="middle" fill="#000" stroke="#000" stroke-width="0.08" style="font-style:italic">P &lt; .002</text>
<text x="128.8" y="306.1" font-family="Liberation Serif, serif" font-size="4.6" font-weight="bold" text-anchor="middle" fill="#000" stroke="#000" stroke-width="0.08" style="font-style:italic">P &lt; .003</text>
<text x="151.3" y="301.6" font-family="Liberation Serif, serif" font-size="4.6" font-weight="bold" text-anchor="middle" fill="#000" stroke="#000" stroke-width="0.08" style="font-style:italic">P &lt; .001</text>
<text transform="translate(87.80,367.80) rotate(-42.5)" font-family="Liberation Serif, serif" font-size="4.8" font-weight="bold" text-anchor="end" fill="#000" textLength="47.6" lengthAdjust="spacingAndGlyphs" stroke="#000" stroke-width="0.1">Control IgG (300 µg/mL)</text>
<text transform="translate(110.20,367.80) rotate(-42.5)" font-family="Liberation Serif, serif" font-size="4.8" font-weight="bold" text-anchor="end" fill="#000" textLength="18.3" lengthAdjust="spacingAndGlyphs" stroke="#000" stroke-width="0.1">3 µg/mL</text>
<text transform="translate(132.40,367.80) rotate(-42.5)" font-family="Liberation Serif, serif" font-size="4.8" font-weight="bold" text-anchor="end" fill="#000" textLength="19.8" lengthAdjust="spacingAndGlyphs" stroke="#000" stroke-width="0.1">30 µg/mL</text>
<text transform="translate(154.60,367.80) rotate(-42.5)" font-family="Liberation Serif, serif" font-size="4.8" font-weight="bold" text-anchor="end" fill="#000" textLength="22.2" lengthAdjust="spacingAndGlyphs" stroke="#000" stroke-width="0.1">300 µg/mL</text>
<path d="M91.40 384.50H153.90" stroke="#222" stroke-width="0.9"/>
<text x="122.70" y="394.80" font-family="Liberation Serif, serif" font-size="6" font-weight="normal" text-anchor="middle" fill="#222" letter-spacing="-0.15" style="">α-PTN Antibody</text>
</g>
<g>
<path d="M254.50 354.30V352.90M250.90 352.90H258.10" stroke="#4a4a4a" stroke-width="0.75" fill="none"/>
<rect x="247.30" y="354.80" width="14.40" height="5.80" fill="url(#p1)" stroke="#2e2e2e" stroke-width="1"/>
<path d="M254.50 360.80v2.2" stroke="#111" stroke-width="0.8"/>
<path d="M276.60 347.40V344.20M273.00 344.20H280.20" stroke="#4a4a4a" stroke-width="0.75" fill="none"/>
<rect x="269.40" y="347.90" width="14.40" height="12.70" fill="url(#p2)" stroke="#2e2e2e" stroke-width="1"/>
<path d="M276.60 360.80v2.2" stroke="#111" stroke-width="0.8"/>
<path d="M298.80 328.90V320.00M295.20 320.00H302.40" stroke="#4a4a4a" stroke-width="0.75" fill="none"/>
<rect x="291.60" y="329.40" width="14.40" height="31.20" fill="#dcdcdc"/>
<rect x="292.10" y="330.90" width="13.40" height="0.9" fill="#b4b4b4"/>
<rect x="292.10" y="333.10" width="13.40" height="0.9" fill="#b4b4b4"/>
<rect x="292.10" y="335.30" width="13.40" height="0.6" fill="#c4c4c4"/>
<rect x="292.10" y="337.50" width="13.40" height="0.6" fill="#c4c4c4"/>
<rect x="292.10" y="339.70" width="13.40" height="0.6" fill="#c4c4c4"/>
<rect x="292.10" y="341.90" width="13.40" height="0.6" fill="#c4c4c4"/>
<rect x="292.10" y="344.10" width="13.40" height="0.6" fill="#c4c4c4"/>
<rect x="292.10" y="346.30" width="13.40" height="1.25" fill="#a9a9a9"/>
<rect x="292.10" y="348.50" width="13.40" height="1.25" fill="#a9a9a9"/>
<rect x="292.10" y="350.70" width="13.40" height="1.25" fill="#a9a9a9"/>
<rect x="292.10" y="352.90" width="13.40" height="1.25" fill="#a9a9a9"/>
<rect x="292.10" y="355.10" width="13.40" height="0.6" fill="#c4c4c4"/>
<rect x="292.10" y="357.30" width="13.40" height="0.6" fill="#c4c4c4"/>
<rect x="292.10" y="359.50" width="13.40" height="0.6" fill="#c4c4c4"/>
<rect x="291.60" y="329.40" width="14.40" height="31.20" fill="none" stroke="#2e2e2e" stroke-width="1"/>
<path d="M298.80 360.80v2.2" stroke="#111" stroke-width="0.8"/>
<path d="M320.70 308.20V304.40M317.10 304.40H324.30" stroke="#4a4a4a" stroke-width="0.75" fill="none"/>
<rect x="313.50" y="308.70" width="14.40" height="51.90" fill="url(#p4)" stroke="#2e2e2e" stroke-width="1"/>
<path d="M320.70 360.80v2.2" stroke="#111" stroke-width="0.8"/>
<path d="M243.70 301.80V360.55H332.70" stroke="#0a0a0a" stroke-width="1.1" fill="none"/>
<path d="M241.10 360.80H243.70" stroke="#111" stroke-width="0.9"/>
<text x="240.70" y="362.25" font-family="Liberation Serif, serif" font-size="4.2" font-weight="bold" text-anchor="end" fill="#000" stroke="#000" stroke-width="0.12" style="">0</text>
<path d="M241.10 346.15H243.70" stroke="#111" stroke-width="0.9"/>
<text x="240.70" y="347.60" font-family="Liberation Serif, serif" font-size="4.2" font-weight="bold" text-anchor="end" fill="#000" stroke="#000" stroke-width="0.12" style="">10</text>
<path d="M241.10 331.50H243.70" stroke="#111" stroke-width="0.9"/>
<text x="240.70" y="332.95" font-family="Liberation Serif, serif" font-size="4.2" font-weight="bold" text-anchor="end" fill="#000" stroke="#000" stroke-width="0.12" style="">20</text>
<path d="M241.10 316.85H243.70" stroke="#111" stroke-width="0.9"/>
<text x="240.70" y="318.30" font-family="Liberation Serif, serif" font-size="4.2" font-weight="bold" text-anchor="end" fill="#000" stroke="#000" stroke-width="0.12" style="">30</text>
<path d="M241.10 302.20H243.70" stroke="#111" stroke-width="0.9"/>
<text x="240.70" y="303.65" font-family="Liberation Serif, serif" font-size="4.2" font-weight="bold" text-anchor="end" fill="#000" stroke="#000" stroke-width="0.12" style="">40</text>
<text transform="translate(231.8,332.10) rotate(-90)" font-family="Liberation Serif, serif" font-size="4.9" font-weight="bold" text-anchor="middle" fill="#000" >% Apoptotic Cells</text>
<text x="298.3" y="317.9" font-family="Liberation Serif, serif" font-size="4.6" font-weight="bold" text-anchor="middle" fill="#000" stroke="#000" stroke-width="0.08" style="font-style:italic">P = .008</text>
<text x="319.8" y="301.7" font-family="Liberation Serif, serif" font-size="4.6" font-weight="bold" text-anchor="middle" fill="#000" stroke="#000" stroke-width="0.08" style="font-style:italic">P = .0007</text>
<text transform="translate(257.20,367.80) rotate(-42.5)" font-family="Liberation Serif, serif" font-size="4.8" font-weight="bold" text-anchor="end" fill="#000" textLength="47.6" lengthAdjust="spacingAndGlyphs" stroke="#000" stroke-width="0.1">Control IgG (300 µg/mL)</text>
<text transform="translate(279.30,367.80) rotate(-42.5)" font-family="Liberation Serif, serif" font-size="4.8" font-weight="bold" text-anchor="end" fill="#000" textLength="18.3" lengthAdjust="spacingAndGlyphs" stroke="#000" stroke-width="0.1">3 µg/mL</text>
<text transform="translate(301.50,367.80) rotate(-42.5)" font-family="Liberation Serif, serif" font-size="4.8" font-weight="bold" text-anchor="end" fill="#000" textLength="19.8" lengthAdjust="spacingAndGlyphs" stroke="#000" stroke-width="0.1">30 µg/mL</text>
<text transform="translate(323.40,367.80) rotate(-42.5)" font-family="Liberation Serif, serif" font-size="4.8" font-weight="bold" text-anchor="end" fill="#000" textLength="22.2" lengthAdjust="spacingAndGlyphs" stroke="#000" stroke-width="0.1">300 µg/mL</text>
<path d="M260.70 384.50H323.20" stroke="#222" stroke-width="0.9"/>
<text x="292.00" y="394.80" font-family="Liberation Serif, serif" font-size="6" font-weight="normal" text-anchor="middle" fill="#222" letter-spacing="-0.15" style="">α-PTN Antibody</text>
</g>
<g>
<path d="M423.70 356.10V354.60M420.10 354.60H427.30" stroke="#4a4a4a" stroke-width="0.75" fill="none"/>
<rect x="416.50" y="356.60" width="14.40" height="4.00" fill="url(#p1)" stroke="#2e2e2e" stroke-width="1"/>
<path d="M423.70 360.80v2.2" stroke="#111" stroke-width="0.8"/>
<path d="M446.10 332.40V329.90M442.50 329.90H449.70" stroke="#4a4a4a" stroke-width="0.75" fill="none"/>
<rect x="438.90" y="332.90" width="14.40" height="27.70" fill="url(#p2)" stroke="#2e2e2e" stroke-width="1"/>
<path d="M446.10 360.80v2.2" stroke="#111" stroke-width="0.8"/>
<path d="M468.30 325.10V324.50M464.70 324.50H471.90" stroke="#4a4a4a" stroke-width="0.75" fill="none"/>
<rect x="461.10" y="325.60" width="14.40" height="35.00" fill="#dcdcdc"/>
<rect x="461.60" y="327.10" width="13.40" height="0.9" fill="#b4b4b4"/>
<rect x="461.60" y="329.30" width="13.40" height="0.9" fill="#b4b4b4"/>
<rect x="461.60" y="331.50" width="13.40" height="0.6" fill="#c4c4c4"/>
<rect x="461.60" y="333.70" width="13.40" height="0.6" fill="#c4c4c4"/>
<rect x="461.60" y="335.90" width="13.40" height="0.6" fill="#c4c4c4"/>
<rect x="461.60" y="338.10" width="13.40" height="0.6" fill="#c4c4c4"/>
<rect x="461.60" y="340.30" width="13.40" height="0.6" fill="#c4c4c4"/>
<rect x="461.60" y="342.50" width="13.40" height="0.6" fill="#c4c4c4"/>
<rect x="461.60" y="344.70" width="13.40" height="1.25" fill="#a9a9a9"/>
<rect x="461.60" y="346.90" width="13.40" height="1.25" fill="#a9a9a9"/>
<rect x="461.60" y="349.10" width="13.40" height="1.25" fill="#a9a9a9"/>
<rect x="461.60" y="351.30" width="13.40" height="1.25" fill="#a9a9a9"/>
<rect x="461.60" y="353.50" width="13.40" height="0.6" fill="#c4c4c4"/>
<rect x="461.60" y="355.70" width="13.40" height="0.6" fill="#c4c4c4"/>
<rect x="461.60" y="357.90" width="13.40" height="0.6" fill="#c4c4c4"/>
<rect x="461.10" y="325.60" width="14.40" height="35.00" fill="none" stroke="#2e2e2e" stroke-width="1"/>
<path d="M468.30 360.80v2.2" stroke="#111" stroke-width="0.8"/>
<path d="M490.50 306.80V305.30M486.90 305.30H494.10" stroke="#4a4a4a" stroke-width="0.75" fill="none"/>
<rect x="483.30" y="307.30" width="14.40" height="53.30" fill="url(#p4)" stroke="#2e2e2e" stroke-width="1"/>
<path d="M490.50 360.80v2.2" stroke="#111" stroke-width="0.8"/>
<path d="M413.00 301.80V360.55H502.00" stroke="#0a0a0a" stroke-width="1.1" fill="none"/>
<path d="M410.40 360.80H413.00" stroke="#111" stroke-width="0.9"/>
<text x="410.00" y="362.25" font-family="Liberation Serif, serif" font-size="4.2" font-weight="bold" text-anchor="end" fill="#000" stroke="#000" stroke-width="0.12" style="">0</text>
<path d="M410.40 352.43H413.00" stroke="#111" stroke-width="0.9"/>
<text x="410.00" y="353.88" font-family="Liberation Serif, serif" font-size="4.2" font-weight="bold" text-anchor="end" fill="#000" stroke="#000" stroke-width="0.12" style="">5</text>
<path d="M410.40 344.06H413.00" stroke="#111" stroke-width="0.9"/>
<text x="410.00" y="345.51" font-family="Liberation Serif, serif" font-size="4.2" font-weight="bold" text-anchor="end" fill="#000" stroke="#000" stroke-width="0.12" style="">10</text>
<path d="M410.40 335.69H413.00" stroke="#111" stroke-width="0.9"/>
<text x="410.00" y="337.14" font-family="Liberation Serif, serif" font-size="4.2" font-weight="bold" text-anchor="end" fill="#000" stroke="#000" stroke-width="0.12" style="">15</text>
<path d="M410.40 327.31H413.00" stroke="#111" stroke-width="0.9"/>
<text x="410.00" y="328.76" font-family="Liberation Serif, serif" font-size="4.2" font-weight="bold" text-anchor="end" fill="#000" stroke="#000" stroke-width="0.12" style="">20</text>
<path d="M410.40 318.94H413.00" stroke="#111" stroke-width="0.9"/>
<text x="410.00" y="320.39" font-family="Liberation Serif, serif" font-size="4.2" font-weight="bold" text-anchor="end" fill="#000" stroke="#000" stroke-width="0.12" style="">25</text>
<path d="M410.40 310.57H413.00" stroke="#111" stroke-width="0.9"/>
<text x="410.00" y="312.02" font-family="Liberation Serif, serif" font-size="4.2" font-weight="bold" text-anchor="end" fill="#000" stroke="#000" stroke-width="0.12" style="">30</text>
<path d="M410.40 302.20H413.00" stroke="#111" stroke-width="0.9"/>
<text x="410.00" y="303.65" font-family="Liberation Serif, serif" font-size="4.2" font-weight="bold" text-anchor="end" fill="#000" stroke="#000" stroke-width="0.12" style="">35</text>
<text transform="translate(401.5,332.10) rotate(-90)" font-family="Liberation Serif, serif" font-size="4.9" font-weight="bold" text-anchor="middle" fill="#000" >% Apoptotic Cells</text>
<text x="446.7" y="327.6" font-family="Liberation Serif, serif" font-size="4.6" font-weight="bold" text-anchor="middle" fill="#000" stroke="#000" stroke-width="0.08" style="font-style:italic">P &lt; .002</text>
<text x="468.3" y="321.4" font-family="Liberation Serif, serif" font-size="4.6" font-weight="bold" text-anchor="middle" fill="#000" stroke="#000" stroke-width="0.08" style="font-style:italic">P &lt; .0001</text>
<text x="490.4" y="303.1" font-family="Liberation Serif, serif" font-size="4.6" font-weight="bold" text-anchor="middle" fill="#000" stroke="#000" stroke-width="0.08" style="font-style:italic">P &lt; .0001</text>
<text transform="translate(426.40,367.80) rotate(-42.5)" font-family="Liberation Serif, serif" font-size="4.8" font-weight="bold" text-anchor="end" fill="#000" textLength="47.6" lengthAdjust="spacingAndGlyphs" stroke="#000" stroke-width="0.1">Control IgG (300 µg/mL)</text>
<text transform="translate(448.80,367.80) rotate(-42.5)" font-family="Liberation Serif, serif" font-size="4.8" font-weight="bold" text-anchor="end" fill="#000" textLength="18.3" lengthAdjust="spacingAndGlyphs" stroke="#000" stroke-width="0.1">3 µg/mL</text>
<text transform="translate(471.00,367.80) rotate(-42.5)" font-family="Liberation Serif, serif" font-size="4.8" font-weight="bold" text-anchor="end" fill="#000" textLength="19.8" lengthAdjust="spacingAndGlyphs" stroke="#000" stroke-width="0.1">30 µg/mL</text>
<text transform="translate(493.20,367.80) rotate(-42.5)" font-family="Liberation Serif, serif" font-size="4.8" font-weight="bold" text-anchor="end" fill="#000" textLength="22.2" lengthAdjust="spacingAndGlyphs" stroke="#000" stroke-width="0.1">300 µg/mL</text>
<path d="M430.00 384.50H492.50" stroke="#222" stroke-width="0.9"/>
<text x="461.30" y="394.80" font-family="Liberation Serif, serif" font-size="6" font-weight="normal" text-anchor="middle" fill="#222" letter-spacing="-0.15" style="">α-PTN Antibody</text>
</g>
<text x="1.7" y="17.9" font-family="Liberation Sans, sans-serif" font-size="20.4" font-weight="bold" text-anchor="start" fill="#000"  style="">A</text>
<text x="89.0" y="19.4" font-family="Liberation Serif, serif" font-size="10.8" font-weight="bold" text-anchor="start" fill="#000" textLength="34.2" lengthAdjust="spacingAndGlyphs" stroke="#000" stroke-width="0.2" style="">MM-1S</text>
<text x="262.7" y="20.2" font-family="Liberation Serif, serif" font-size="10.8" font-weight="bold" text-anchor="start" fill="#000" textLength="24.6" lengthAdjust="spacingAndGlyphs" stroke="#000" stroke-width="0.2" style="">U266</text>
<text x="411.3" y="20.2" font-family="Liberation Serif, serif" font-size="10.8" font-weight="bold" text-anchor="start" fill="#000" textLength="63.8" lengthAdjust="spacingAndGlyphs" stroke="#000" stroke-width="0.2" style="">MM BM Cells</text>
<text x="16.0" y="69.5" font-family="Liberation Serif, serif" font-size="11" font-weight="bold" text-anchor="start" fill="#000" textLength="24.3" lengthAdjust="spacingAndGlyphs" stroke="#000" stroke-width="0.25" style="">MTT</text>
<text x="15.6" y="201.2" font-family="Liberation Serif, serif" font-size="11" font-weight="bold" text-anchor="start" fill="#000" textLength="24.4" lengthAdjust="spacingAndGlyphs" stroke="#000" stroke-width="0.25" style="">BrdU</text>
<text x="2.3" y="333.1" font-family="Liberation Serif, serif" font-size="11" font-weight="bold" text-anchor="start" fill="#000" textLength="44.5" lengthAdjust="spacingAndGlyphs" stroke="#000" stroke-width="0.25" style="">Apoptosis</text>
<text x="3.0" y="434.0" font-family="Liberation Sans, sans-serif" font-size="20" font-weight="bold" text-anchor="start" fill="#000"  style="">B</text>
<text x="130" y="441.0" font-family="Liberation Sans, sans-serif" font-size="13.2" font-weight="bold" text-anchor="middle" fill="#000"  style="">% Total Cell Recovery</text>
<text x="386.8" y="437.3" font-family="Liberation Sans, sans-serif" font-size="13" font-weight="bold" text-anchor="middle" fill="#000"  style="">% Viable Cell Recovery</text>
<rect x="33.55" y="491.85" width="12.30" height="55.55" fill="#fff" stroke="#000" stroke-width="1"/>
<rect x="45.85" y="491.65" width="12.70" height="55.75" fill="#050505"/>
<rect x="75.55" y="494.55" width="12.30" height="52.85" fill="#fff" stroke="#000" stroke-width="1"/>
<rect x="87.85" y="492.35" width="12.70" height="55.05" fill="#050505"/>
<rect x="117.70" y="501.25" width="12.30" height="46.15" fill="#fff" stroke="#000" stroke-width="1"/>
<rect x="130.00" y="491.05" width="12.70" height="56.35" fill="#050505"/>
<rect x="160.40" y="499.85" width="12.30" height="47.55" fill="#fff" stroke="#000" stroke-width="1"/>
<rect x="172.70" y="493.85" width="12.70" height="53.55" fill="#050505"/>
<rect x="202.40" y="509.05" width="12.30" height="38.35" fill="#fff" stroke="#000" stroke-width="1"/>
<rect x="214.70" y="497.35" width="12.70" height="50.05" fill="#050505"/>
<path d="M24.10 469.50V547.40H238.00" stroke="#000" stroke-width="1.2" fill="none"/>
<path d="M21.90 547.40H23.90" stroke="#111" stroke-width="0.8"/>
<text transform="translate(20.70,549.20) scale(1.08,1)" font-family="Liberation Sans, sans-serif" font-size="5.1" font-weight="normal" text-anchor="end" fill="#000" stroke="#000" stroke-width="0.12">0</text>
<path d="M21.90 536.27H23.90" stroke="#111" stroke-width="0.8"/>
<text transform="translate(20.70,538.07) scale(1.08,1)" font-family="Liberation Sans, sans-serif" font-size="5.1" font-weight="normal" text-anchor="end" fill="#000" stroke="#000" stroke-width="0.12">20</text>
<path d="M21.90 525.14H23.90" stroke="#111" stroke-width="0.8"/>
<text transform="translate(20.70,526.94) scale(1.08,1)" font-family="Liberation Sans, sans-serif" font-size="5.1" font-weight="normal" text-anchor="end" fill="#000" stroke="#000" stroke-width="0.12">40</text>
<path d="M21.90 514.01H23.90" stroke="#111" stroke-width="0.8"/>
<text transform="translate(20.70,515.81) scale(1.08,1)" font-family="Liberation Sans, sans-serif" font-size="5.1" font-weight="normal" text-anchor="end" fill="#000" stroke="#000" stroke-width="0.12">60</text>
<path d="M21.90 502.89H23.90" stroke="#111" stroke-width="0.8"/>
<text transform="translate(20.70,504.69) scale(1.08,1)" font-family="Liberation Sans, sans-serif" font-size="5.1" font-weight="normal" text-anchor="end" fill="#000" stroke="#000" stroke-width="0.12">80</text>
<path d="M21.90 491.76H23.90" stroke="#111" stroke-width="0.8"/>
<text transform="translate(20.70,493.56) scale(1.08,1)" font-family="Liberation Sans, sans-serif" font-size="5.1" font-weight="normal" text-anchor="end" fill="#000" stroke="#000" stroke-width="0.12">100</text>
<path d="M21.90 480.63H23.90" stroke="#111" stroke-width="0.8"/>
<text transform="translate(20.70,482.43) scale(1.08,1)" font-family="Liberation Sans, sans-serif" font-size="5.1" font-weight="normal" text-anchor="end" fill="#000" stroke="#000" stroke-width="0.12">120</text>
<path d="M21.90 469.50H23.90" stroke="#111" stroke-width="0.8"/>
<text transform="translate(20.70,471.30) scale(1.08,1)" font-family="Liberation Sans, sans-serif" font-size="5.1" font-weight="normal" text-anchor="end" fill="#000" stroke="#000" stroke-width="0.12">140</text>
<path d="M66.85 547.10v1.6" stroke="#111" stroke-width="0.9"/>
<path d="M108.85 547.10v1.6" stroke="#111" stroke-width="0.9"/>
<path d="M150.85 547.10v1.6" stroke="#111" stroke-width="0.9"/>
<path d="M192.85 547.10v1.6" stroke="#111" stroke-width="0.9"/>
<path d="M234.85 547.10v1.6" stroke="#111" stroke-width="0.9"/>
<text transform="translate(7.30,508.45) rotate(-90) scale(1.15,1)" font-family="Liberation Sans, sans-serif" font-size="5.3" text-anchor="middle" fill="#222">% total cell recovery</text>
<text x="9.7" y="459.4" font-family="Liberation Sans, sans-serif" font-size="10.2" font-weight="bold" fill="#000" textLength="27" lengthAdjust="spacingAndGlyphs" stroke="#000" stroke-width="0.25">U266</text>
<rect x="200.85" y="455.55" width="9.2" height="9.1" fill="#fff" stroke="#111" stroke-width="1.1"/>
<rect x="200.30" y="469.70" width="10.3" height="10.1" fill="#050505"/>
<text x="212.30" y="464.00" font-family="Liberation Sans, sans-serif" font-size="11.7" font-weight="bold" stroke="#000" stroke-width="0.3" textLength="19.5" lengthAdjust="spacingAndGlyphs">48h</text>
<text x="212.30" y="479.10" font-family="Liberation Sans, sans-serif" font-size="11.7" font-weight="bold" stroke="#000" stroke-width="0.3" textLength="19.5" lengthAdjust="spacingAndGlyphs">72h</text>
<text transform="translate(45.85,557.80) scale(1.2,1)" font-family="Liberation Sans, sans-serif" font-size="5.2" font-weight="normal" text-anchor="middle" fill="#111" stroke="#111" stroke-width="0.1">Control</text>
<text transform="translate(87.25,557.80) scale(1.2,1)" font-family="Liberation Sans, sans-serif" font-size="5.2" font-weight="normal" text-anchor="middle" fill="#111" stroke="#111" stroke-width="0.1">Goat IgG</text>
<text transform="translate(135.00,557.80) scale(1.02,1)" font-family="Liberation Sans, sans-serif" font-size="5.0" font-weight="bold" text-anchor="middle" fill="#222" >3</text>
<text transform="translate(174.00,557.80) scale(1.02,1)" font-family="Liberation Sans, sans-serif" font-size="5.0" font-weight="bold" text-anchor="middle" fill="#222" >30</text>
<text transform="translate(218.70,557.80) scale(1.02,1)" font-family="Liberation Sans, sans-serif" font-size="5.0" font-weight="bold" text-anchor="middle" fill="#222" >300</text>
<text transform="translate(87.85,565.00) scale(1.15,1)" font-family="Liberation Sans, sans-serif" font-size="5.2" font-weight="normal" text-anchor="middle" fill="#111" stroke="#111" stroke-width="0.1">(300ug/ml)</text>
<path d="M120.00 560.20H225.40" stroke="#bbb" stroke-width="0.8"/>
<text transform="translate(180.20,567.70) scale(1.13,1)" font-family="Liberation Sans, sans-serif" font-size="5.2" font-weight="normal" text-anchor="middle" fill="#111" stroke="#111" stroke-width="0.12">Anti-PTN (ug/ml)</text>
<text transform="translate(110.8,494.1) scale(1.0,1)" font-family="Liberation Sans, sans-serif" font-size="4.5" font-weight="normal" text-anchor="start" fill="#808080" >P=0.046</text>
<text transform="translate(195.3,500.7) scale(1.0,1)" font-family="Liberation Sans, sans-serif" font-size="4.5" font-weight="normal" text-anchor="start" fill="#808080" >P=0.046</text>
<text transform="translate(213.8,490.0) scale(1.0,1)" font-family="Liberation Sans, sans-serif" font-size="4.5" font-weight="normal" text-anchor="start" fill="#808080" >P=0.076</text>
<rect x="309.20" y="480.85" width="12.40" height="65.65" fill="#fff" stroke="#000" stroke-width="1"/>
<rect x="321.60" y="480.65" width="12.80" height="65.85" fill="#050505"/>
<rect x="351.60" y="486.55" width="12.40" height="59.95" fill="#fff" stroke="#000" stroke-width="1"/>
<rect x="364.00" y="483.85" width="12.80" height="62.65" fill="#050505"/>
<rect x="393.60" y="490.05" width="12.40" height="56.45" fill="#fff" stroke="#000" stroke-width="1"/>
<rect x="406.00" y="486.55" width="12.80" height="59.95" fill="#050505"/>
<rect x="436.00" y="488.35" width="12.40" height="58.15" fill="#fff" stroke="#000" stroke-width="1"/>
<rect x="448.40" y="490.05" width="12.80" height="56.45" fill="#050505"/>
<rect x="478.20" y="501.55" width="12.40" height="44.95" fill="#fff" stroke="#000" stroke-width="1"/>
<rect x="490.60" y="492.75" width="12.80" height="53.75" fill="#050505"/>
<path d="M300.40 468.00V546.50H512.50" stroke="#000" stroke-width="1.2" fill="none"/>
<path d="M298.20 546.50H300.20" stroke="#111" stroke-width="0.8"/>
<text transform="translate(297.00,548.30) scale(1.08,1)" font-family="Liberation Sans, sans-serif" font-size="5.1" font-weight="normal" text-anchor="end" fill="#000" stroke="#000" stroke-width="0.12">0</text>
<path d="M298.20 533.42H300.20" stroke="#111" stroke-width="0.8"/>
<text transform="translate(297.00,535.22) scale(1.08,1)" font-family="Liberation Sans, sans-serif" font-size="5.1" font-weight="normal" text-anchor="end" fill="#000" stroke="#000" stroke-width="0.12">20</text>
<path d="M298.20 520.33H300.20" stroke="#111" stroke-width="0.8"/>
<text transform="translate(297.00,522.13) scale(1.08,1)" font-family="Liberation Sans, sans-serif" font-size="5.1" font-weight="normal" text-anchor="end" fill="#000" stroke="#000" stroke-width="0.12">40</text>
<path d="M298.20 507.25H300.20" stroke="#111" stroke-width="0.8"/>
<text transform="translate(297.00,509.05) scale(1.08,1)" font-family="Liberation Sans, sans-serif" font-size="5.1" font-weight="normal" text-anchor="end" fill="#000" stroke="#000" stroke-width="0.12">60</text>
<path d="M298.20 494.17H300.20" stroke="#111" stroke-width="0.8"/>
<text transform="translate(297.00,495.97) scale(1.08,1)" font-family="Liberation Sans, sans-serif" font-size="5.1" font-weight="normal" text-anchor="end" fill="#000" stroke="#000" stroke-width="0.12">80</text>
<path d="M298.20 481.08H300.20" stroke="#111" stroke-width="0.8"/>
<text transform="translate(297.00,482.88) scale(1.08,1)" font-family="Liberation Sans, sans-serif" font-size="5.1" font-weight="normal" text-anchor="end" fill="#000" stroke="#000" stroke-width="0.12">100</text>
<path d="M298.20 468.00H300.20" stroke="#111" stroke-width="0.8"/>
<text transform="translate(297.00,469.80) scale(1.08,1)" font-family="Liberation Sans, sans-serif" font-size="5.1" font-weight="normal" text-anchor="end" fill="#000" stroke="#000" stroke-width="0.12">120</text>
<path d="M342.80 546.20v1.6" stroke="#111" stroke-width="0.9"/>
<path d="M385.20 546.20v1.6" stroke="#111" stroke-width="0.9"/>
<path d="M427.60 546.20v1.6" stroke="#111" stroke-width="0.9"/>
<path d="M470.00 546.20v1.6" stroke="#111" stroke-width="0.9"/>
<path d="M512.40 546.20v1.6" stroke="#111" stroke-width="0.9"/>
<text transform="translate(283.60,507.25) rotate(-90) scale(1.15,1)" font-family="Liberation Sans, sans-serif" font-size="5.3" text-anchor="middle" fill="#222">% viable cell recovery</text>
<text x="277.3" y="459.4" font-family="Liberation Sans, sans-serif" font-size="10.2" font-weight="bold" fill="#000" textLength="26.5" lengthAdjust="spacingAndGlyphs" stroke="#000" stroke-width="0.25">U266</text>
<rect x="473.15" y="451.95" width="9.2" height="9.1" fill="#fff" stroke="#111" stroke-width="1.1"/>
<rect x="472.60" y="466.10" width="10.3" height="10.1" fill="#050505"/>
<text x="486.30" y="460.40" font-family="Liberation Sans, sans-serif" font-size="11.7" font-weight="bold" stroke="#000" stroke-width="0.3" textLength="19.5" lengthAdjust="spacingAndGlyphs">48h</text>
<text x="486.30" y="475.50" font-family="Liberation Sans, sans-serif" font-size="11.7" font-weight="bold" stroke="#000" stroke-width="0.3" textLength="19.5" lengthAdjust="spacingAndGlyphs">72h</text>
<text transform="translate(321.60,556.90) scale(1.2,1)" font-family="Liberation Sans, sans-serif" font-size="5.2" font-weight="normal" text-anchor="middle" fill="#111" stroke="#111" stroke-width="0.1">Control</text>
<text transform="translate(363.40,556.90) scale(1.2,1)" font-family="Liberation Sans, sans-serif" font-size="5.2" font-weight="normal" text-anchor="middle" fill="#111" stroke="#111" stroke-width="0.1">Goat IgG</text>
<text transform="translate(412.30,556.90) scale(1.02,1)" font-family="Liberation Sans, sans-serif" font-size="5.0" font-weight="bold" text-anchor="middle" fill="#222" >3</text>
<text transform="translate(450.50,556.90) scale(1.02,1)" font-family="Liberation Sans, sans-serif" font-size="5.0" font-weight="bold" text-anchor="middle" fill="#222" >30</text>
<text transform="translate(496.30,556.90) scale(1.02,1)" font-family="Liberation Sans, sans-serif" font-size="5.0" font-weight="bold" text-anchor="middle" fill="#222" >300</text>
<text transform="translate(364.00,564.10) scale(1.15,1)" font-family="Liberation Sans, sans-serif" font-size="5.2" font-weight="normal" text-anchor="middle" fill="#111" stroke="#111" stroke-width="0.1">(300ug/ml)</text>
<path d="M397.50 559.30H501.00" stroke="#bbb" stroke-width="0.8"/>
<text transform="translate(456.75,566.80) scale(1.13,1)" font-family="Liberation Sans, sans-serif" font-size="5.2" font-weight="normal" text-anchor="middle" fill="#111" stroke="#111" stroke-width="0.12">Anti-PTN (ug/ml)</text>
<text transform="translate(392.5,477.3) scale(1.0,1)" font-family="Liberation Sans, sans-serif" font-size="4.5" font-weight="normal" text-anchor="start" fill="#808080" >P=0.083</text>
<text transform="translate(436.0,471.5) scale(1.0,1)" font-family="Liberation Sans, sans-serif" font-size="4.5" font-weight="normal" text-anchor="start" fill="#808080" >P=0.06</text>
<text transform="translate(472.5,495.7) scale(1.0,1)" font-family="Liberation Sans, sans-serif" font-size="4.5" font-weight="normal" text-anchor="start" fill="#808080" >P=0.06</text>
<text transform="translate(489.5,486.5) scale(1.0,1)" font-family="Liberation Sans, sans-serif" font-size="4.5" font-weight="normal" text-anchor="start" fill="#808080" >P=0.06</text>
<rect x="34.30" y="612.05" width="12.30" height="65.45" fill="#fff" stroke="#000" stroke-width="1"/>
<rect x="46.60" y="611.85" width="12.70" height="65.65" fill="#050505"/>
<rect x="76.55" y="615.55" width="12.30" height="61.95" fill="#fff" stroke="#000" stroke-width="1"/>
<rect x="88.85" y="613.15" width="12.70" height="64.35" fill="#050505"/>
<rect x="118.70" y="621.65" width="12.30" height="55.85" fill="#fff" stroke="#000" stroke-width="1"/>
<rect x="131.00" y="613.05" width="12.70" height="64.45" fill="#050505"/>
<rect x="161.00" y="616.75" width="12.30" height="60.75" fill="#fff" stroke="#000" stroke-width="1"/>
<rect x="173.30" y="614.25" width="12.70" height="63.25" fill="#050505"/>
<rect x="203.60" y="633.45" width="12.30" height="44.05" fill="#fff" stroke="#000" stroke-width="1"/>
<rect x="215.90" y="625.75" width="12.70" height="51.75" fill="#050505"/>
<path d="M24.40 599.00V677.50H237.50" stroke="#000" stroke-width="1.2" fill="none"/>
<path d="M22.20 677.50H24.20" stroke="#111" stroke-width="0.8"/>
<text transform="translate(21.00,679.30) scale(1.08,1)" font-family="Liberation Sans, sans-serif" font-size="5.1" font-weight="normal" text-anchor="end" fill="#000" stroke="#000" stroke-width="0.12">0</text>
<path d="M22.20 664.42H24.20" stroke="#111" stroke-width="0.8"/>
<text transform="translate(21.00,666.22) scale(1.08,1)" font-family="Liberation Sans, sans-serif" font-size="5.1" font-weight="normal" text-anchor="end" fill="#000" stroke="#000" stroke-width="0.12">20</text>
<path d="M22.20 651.33H24.20" stroke="#111" stroke-width="0.8"/>
<text transform="translate(21.00,653.13) scale(1.08,1)" font-family="Liberation Sans, sans-serif" font-size="5.1" font-weight="normal" text-anchor="end" fill="#000" stroke="#000" stroke-width="0.12">40</text>
<path d="M22.20 638.25H24.20" stroke="#111" stroke-width="0.8"/>
<text transform="translate(21.00,640.05) scale(1.08,1)" font-family="Liberation Sans, sans-serif" font-size="5.1" font-weight="normal" text-anchor="end" fill="#000" stroke="#000" stroke-width="0.12">60</text>
<path d="M22.20 625.17H24.20" stroke="#111" stroke-width="0.8"/>
<text transform="translate(21.00,626.97) scale(1.08,1)" font-family="Liberation Sans, sans-serif" font-size="5.1" font-weight="normal" text-anchor="end" fill="#000" stroke="#000" stroke-width="0.12">80</text>
<path d="M22.20 612.08H24.20" stroke="#111" stroke-width="0.8"/>
<text transform="translate(21.00,613.88) scale(1.08,1)" font-family="Liberation Sans, sans-serif" font-size="5.1" font-weight="normal" text-anchor="end" fill="#000" stroke="#000" stroke-width="0.12">100</text>
<path d="M22.20 599.00H24.20" stroke="#111" stroke-width="0.8"/>
<text transform="translate(21.00,600.80) scale(1.08,1)" font-family="Liberation Sans, sans-serif" font-size="5.1" font-weight="normal" text-anchor="end" fill="#000" stroke="#000" stroke-width="0.12">120</text>
<path d="M67.72 677.20v1.6" stroke="#111" stroke-width="0.9"/>
<path d="M109.97 677.20v1.6" stroke="#111" stroke-width="0.9"/>
<path d="M152.22 677.20v1.6" stroke="#111" stroke-width="0.9"/>
<path d="M194.47 677.20v1.6" stroke="#111" stroke-width="0.9"/>
<path d="M236.72 677.20v1.6" stroke="#111" stroke-width="0.9"/>
<text transform="translate(7.60,638.25) rotate(-90) scale(1.15,1)" font-family="Liberation Sans, sans-serif" font-size="5.3" text-anchor="middle" fill="#222">% total cell recovery</text>
<text x="7.7" y="588.6" font-family="Liberation Sans, sans-serif" font-size="10.2" font-weight="bold" fill="#000" textLength="33.5" lengthAdjust="spacingAndGlyphs" stroke="#000" stroke-width="0.25">MM1S</text>
<rect x="201.65" y="580.75" width="9.2" height="9.1" fill="#fff" stroke="#111" stroke-width="1.1"/>
<rect x="201.10" y="594.90" width="10.3" height="10.1" fill="#050505"/>
<text x="213.90" y="589.20" font-family="Liberation Sans, sans-serif" font-size="11.7" font-weight="bold" stroke="#000" stroke-width="0.3" textLength="19.5" lengthAdjust="spacingAndGlyphs">48h</text>
<text x="213.90" y="604.30" font-family="Liberation Sans, sans-serif" font-size="11.7" font-weight="bold" stroke="#000" stroke-width="0.3" textLength="19.5" lengthAdjust="spacingAndGlyphs">72h</text>
<text transform="translate(46.60,687.90) scale(1.2,1)" font-family="Liberation Sans, sans-serif" font-size="5.2" font-weight="normal" text-anchor="middle" fill="#111" stroke="#111" stroke-width="0.1">Control</text>
<text transform="translate(88.25,687.90) scale(1.2,1)" font-family="Liberation Sans, sans-serif" font-size="5.2" font-weight="normal" text-anchor="middle" fill="#111" stroke="#111" stroke-width="0.1">Goat IgG</text>
<text transform="translate(137.40,687.90) scale(1.02,1)" font-family="Liberation Sans, sans-serif" font-size="5.0" font-weight="bold" text-anchor="middle" fill="#222" >3</text>
<text transform="translate(175.80,687.90) scale(1.02,1)" font-family="Liberation Sans, sans-serif" font-size="5.0" font-weight="bold" text-anchor="middle" fill="#222" >30</text>
<text transform="translate(221.90,687.90) scale(1.02,1)" font-family="Liberation Sans, sans-serif" font-size="5.0" font-weight="bold" text-anchor="middle" fill="#222" >300</text>
<text transform="translate(88.85,695.10) scale(1.15,1)" font-family="Liberation Sans, sans-serif" font-size="5.2" font-weight="normal" text-anchor="middle" fill="#111" stroke="#111" stroke-width="0.1">(300ug/ml)</text>
<path d="M123.00 690.30H226.80" stroke="#bbb" stroke-width="0.8"/>
<text transform="translate(182.40,697.80) scale(1.13,1)" font-family="Liberation Sans, sans-serif" font-size="5.2" font-weight="normal" text-anchor="middle" fill="#111" stroke="#111" stroke-width="0.12">Anti-PTN (ug/ml)</text>
<text transform="translate(116.0,606.5) scale(1.0,1)" font-family="Liberation Sans, sans-serif" font-size="4.5" font-weight="normal" text-anchor="start" fill="#808080" >P=0.083</text>
<text transform="translate(203.0,621.8) scale(1.0,1)" font-family="Liberation Sans, sans-serif" font-size="4.5" font-weight="normal" text-anchor="start" fill="#808080" >P&lt;0.05</text>
<text transform="translate(216.7,614.5) scale(1.0,1)" font-family="Liberation Sans, sans-serif" font-size="4.5" font-weight="normal" text-anchor="start" fill="#808080" >P=0.046</text>
<rect x="310.30" y="611.35" width="12.40" height="65.65" fill="#fff" stroke="#000" stroke-width="1"/>
<rect x="322.70" y="611.15" width="12.80" height="65.85" fill="#050505"/>
<rect x="352.30" y="615.35" width="12.40" height="61.65" fill="#fff" stroke="#000" stroke-width="1"/>
<rect x="364.70" y="616.35" width="12.80" height="60.65" fill="#050505"/>
<rect x="394.50" y="617.85" width="12.40" height="59.15" fill="#fff" stroke="#000" stroke-width="1"/>
<rect x="406.90" y="623.55" width="12.80" height="53.45" fill="#050505"/>
<rect x="437.10" y="620.75" width="12.40" height="56.25" fill="#fff" stroke="#000" stroke-width="1"/>
<rect x="449.50" y="621.65" width="12.80" height="55.35" fill="#050505"/>
<rect x="479.40" y="633.15" width="12.40" height="43.85" fill="#fff" stroke="#000" stroke-width="1"/>
<rect x="491.80" y="637.05" width="12.80" height="39.95" fill="#050505"/>
<path d="M300.90 598.30V677.00H513.50" stroke="#000" stroke-width="1.2" fill="none"/>
<path d="M298.70 677.00H300.70" stroke="#111" stroke-width="0.8"/>
<text transform="translate(297.50,678.80) scale(1.08,1)" font-family="Liberation Sans, sans-serif" font-size="5.1" font-weight="normal" text-anchor="end" fill="#000" stroke="#000" stroke-width="0.12">0</text>
<path d="M298.70 663.88H300.70" stroke="#111" stroke-width="0.8"/>
<text transform="translate(297.50,665.68) scale(1.08,1)" font-family="Liberation Sans, sans-serif" font-size="5.1" font-weight="normal" text-anchor="end" fill="#000" stroke="#000" stroke-width="0.12">20</text>
<path d="M298.70 650.77H300.70" stroke="#111" stroke-width="0.8"/>
<text transform="translate(297.50,652.57) scale(1.08,1)" font-family="Liberation Sans, sans-serif" font-size="5.1" font-weight="normal" text-anchor="end" fill="#000" stroke="#000" stroke-width="0.12">40</text>
<path d="M298.70 637.65H300.70" stroke="#111" stroke-width="0.8"/>
<text transform="translate(297.50,639.45) scale(1.08,1)" font-family="Liberation Sans, sans-serif" font-size="5.1" font-weight="normal" text-anchor="end" fill="#000" stroke="#000" stroke-width="0.12">60</text>
<path d="M298.70 624.53H300.70" stroke="#111" stroke-width="0.8"/>
<text transform="translate(297.50,626.33) scale(1.08,1)" font-family="Liberation Sans, sans-serif" font-size="5.1" font-weight="normal" text-anchor="end" fill="#000" stroke="#000" stroke-width="0.12">80</text>
<path d="M298.70 611.42H300.70" stroke="#111" stroke-width="0.8"/>
<text transform="translate(297.50,613.22) scale(1.08,1)" font-family="Liberation Sans, sans-serif" font-size="5.1" font-weight="normal" text-anchor="end" fill="#000" stroke="#000" stroke-width="0.12">100</text>
<path d="M298.70 598.30H300.70" stroke="#111" stroke-width="0.8"/>
<text transform="translate(297.50,600.10) scale(1.08,1)" font-family="Liberation Sans, sans-serif" font-size="5.1" font-weight="normal" text-anchor="end" fill="#000" stroke="#000" stroke-width="0.12">120</text>
<path d="M343.70 676.70v1.6" stroke="#111" stroke-width="0.9"/>
<path d="M385.70 676.70v1.6" stroke="#111" stroke-width="0.9"/>
<path d="M427.70 676.70v1.6" stroke="#111" stroke-width="0.9"/>
<path d="M469.70 676.70v1.6" stroke="#111" stroke-width="0.9"/>
<path d="M511.70 676.70v1.6" stroke="#111" stroke-width="0.9"/>
<text transform="translate(284.10,637.65) rotate(-90) scale(1.15,1)" font-family="Liberation Sans, sans-serif" font-size="5.3" text-anchor="middle" fill="#222">% viable cell recovery</text>
<text x="284.4" y="588.6" font-family="Liberation Sans, sans-serif" font-size="10.2" font-weight="bold" fill="#000" textLength="32.5" lengthAdjust="spacingAndGlyphs" stroke="#000" stroke-width="0.25">MM1S</text>
<rect x="473.95" y="595.85" width="9.2" height="9.1" fill="#fff" stroke="#111" stroke-width="1.1"/>
<rect x="473.40" y="610.00" width="10.3" height="10.1" fill="#050505"/>
<text x="486.50" y="604.30" font-family="Liberation Sans, sans-serif" font-size="11.7" font-weight="bold" stroke="#000" stroke-width="0.3" textLength="19.5" lengthAdjust="spacingAndGlyphs">48h</text>
<text x="486.50" y="619.40" font-family="Liberation Sans, sans-serif" font-size="11.7" font-weight="bold" stroke="#000" stroke-width="0.3" textLength="19.5" lengthAdjust="spacingAndGlyphs">72h</text>
<text transform="translate(322.70,687.40) scale(1.2,1)" font-family="Liberation Sans, sans-serif" font-size="5.2" font-weight="normal" text-anchor="middle" fill="#111" stroke="#111" stroke-width="0.1">Control</text>
<text transform="translate(364.10,687.40) scale(1.2,1)" font-family="Liberation Sans, sans-serif" font-size="5.2" font-weight="normal" text-anchor="middle" fill="#111" stroke="#111" stroke-width="0.1">Goat IgG</text>
<text transform="translate(413.70,687.40) scale(1.02,1)" font-family="Liberation Sans, sans-serif" font-size="5.0" font-weight="bold" text-anchor="middle" fill="#222" >3</text>
<text transform="translate(452.20,687.40) scale(1.02,1)" font-family="Liberation Sans, sans-serif" font-size="5.0" font-weight="bold" text-anchor="middle" fill="#222" >30</text>
<text transform="translate(497.70,687.40) scale(1.02,1)" font-family="Liberation Sans, sans-serif" font-size="5.0" font-weight="bold" text-anchor="middle" fill="#222" >300</text>
<text transform="translate(364.70,694.60) scale(1.15,1)" font-family="Liberation Sans, sans-serif" font-size="5.2" font-weight="normal" text-anchor="middle" fill="#111" stroke="#111" stroke-width="0.1">(300ug/ml)</text>
<path d="M398.80 689.80H503.90" stroke="#bbb" stroke-width="0.8"/>
<text transform="translate(458.85,697.30) scale(1.13,1)" font-family="Liberation Sans, sans-serif" font-size="5.2" font-weight="normal" text-anchor="middle" fill="#111" stroke="#111" stroke-width="0.12">Anti-PTN (ug/ml)</text>
<text transform="translate(473.7,628.5) scale(1.0,1)" font-family="Liberation Sans, sans-serif" font-size="4.5" font-weight="normal" text-anchor="start" fill="#808080" >P&lt;0.05</text>
<text transform="translate(494.8,628.5) scale(1.0,1)" font-family="Liberation Sans, sans-serif" font-size="4.5" font-weight="normal" text-anchor="start" fill="#808080" >P&lt;0.05</text>
<rect x="34.30" y="743.55" width="12.30" height="65.45" fill="#fff" stroke="#000" stroke-width="1"/>
<rect x="46.60" y="743.35" width="12.70" height="65.65" fill="#050505"/>
<rect x="76.55" y="743.55" width="12.30" height="65.45" fill="#fff" stroke="#000" stroke-width="1"/>
<rect x="88.85" y="749.65" width="12.70" height="59.35" fill="#050505"/>
<rect x="118.70" y="745.25" width="12.30" height="63.75" fill="#fff" stroke="#000" stroke-width="1"/>
<rect x="131.00" y="749.15" width="12.70" height="59.85" fill="#050505"/>
<rect x="161.00" y="748.75" width="12.30" height="60.25" fill="#fff" stroke="#000" stroke-width="1"/>
<rect x="173.30" y="749.95" width="12.70" height="59.05" fill="#050505"/>
<rect x="203.60" y="756.85" width="12.30" height="52.15" fill="#fff" stroke="#000" stroke-width="1"/>
<rect x="215.90" y="752.85" width="12.70" height="56.15" fill="#050505"/>
<path d="M24.40 730.30V809.00H237.50" stroke="#000" stroke-width="1.2" fill="none"/>
<path d="M22.20 809.00H24.20" stroke="#111" stroke-width="0.8"/>
<text transform="translate(21.00,810.80) scale(1.08,1)" font-family="Liberation Sans, sans-serif" font-size="5.1" font-weight="normal" text-anchor="end" fill="#000" stroke="#000" stroke-width="0.12">0</text>
<path d="M22.20 795.88H24.20" stroke="#111" stroke-width="0.8"/>
<text transform="translate(21.00,797.68) scale(1.08,1)" font-family="Liberation Sans, sans-serif" font-size="5.1" font-weight="normal" text-anchor="end" fill="#000" stroke="#000" stroke-width="0.12">20</text>
<path d="M22.20 782.77H24.20" stroke="#111" stroke-width="0.8"/>
<text transform="translate(21.00,784.57) scale(1.08,1)" font-family="Liberation Sans, sans-serif" font-size="5.1" font-weight="normal" text-anchor="end" fill="#000" stroke="#000" stroke-width="0.12">40</text>
<path d="M22.20 769.65H24.20" stroke="#111" stroke-width="0.8"/>
<text transform="translate(21.00,771.45) scale(1.08,1)" font-family="Liberation Sans, sans-serif" font-size="5.1" font-weight="normal" text-anchor="end" fill="#000" stroke="#000" stroke-width="0.12">60</text>
<path d="M22.20 756.53H24.20" stroke="#111" stroke-width="0.8"/>
<text transform="translate(21.00,758.33) scale(1.08,1)" font-family="Liberation Sans, sans-serif" font-size="5.1" font-weight="normal" text-anchor="end" fill="#000" stroke="#000" stroke-width="0.12">80</text>
<path d="M22.20 743.42H24.20" stroke="#111" stroke-width="0.8"/>
<text transform="translate(21.00,745.22) scale(1.08,1)" font-family="Liberation Sans, sans-serif" font-size="5.1" font-weight="normal" text-anchor="end" fill="#000" stroke="#000" stroke-width="0.12">100</text>
<path d="M22.20 730.30H24.20" stroke="#111" stroke-width="0.8"/>
<text transform="translate(21.00,732.10) scale(1.08,1)" font-family="Liberation Sans, sans-serif" font-size="5.1" font-weight="normal" text-anchor="end" fill="#000" stroke="#000" stroke-width="0.12">120</text>
<path d="M67.72 808.70v1.6" stroke="#111" stroke-width="0.9"/>
<path d="M109.97 808.70v1.6" stroke="#111" stroke-width="0.9"/>
<path d="M152.22 808.70v1.6" stroke="#111" stroke-width="0.9"/>
<path d="M194.47 808.70v1.6" stroke="#111" stroke-width="0.9"/>
<path d="M236.72 808.70v1.6" stroke="#111" stroke-width="0.9"/>
<text transform="translate(7.60,769.65) rotate(-90) scale(1.15,1)" font-family="Liberation Sans, sans-serif" font-size="5.3" text-anchor="middle" fill="#222">% total cell recovery</text>
<text x="3.6" y="722.6" font-family="Liberation Sans, sans-serif" font-size="10.2" font-weight="bold" fill="#000" textLength="38.7" lengthAdjust="spacingAndGlyphs" stroke="#000" stroke-width="0.25">MM BM</text>
<rect x="201.65" y="714.45" width="9.2" height="9.1" fill="#fff" stroke="#111" stroke-width="1.1"/>
<rect x="201.10" y="728.60" width="10.3" height="10.1" fill="#050505"/>
<text x="213.90" y="722.90" font-family="Liberation Sans, sans-serif" font-size="11.7" font-weight="bold" stroke="#000" stroke-width="0.3" textLength="19.5" lengthAdjust="spacingAndGlyphs">48h</text>
<text x="213.90" y="738.00" font-family="Liberation Sans, sans-serif" font-size="11.7" font-weight="bold" stroke="#000" stroke-width="0.3" textLength="19.5" lengthAdjust="spacingAndGlyphs">72h</text>
<text transform="translate(46.60,819.40) scale(1.2,1)" font-family="Liberation Sans, sans-serif" font-size="5.2" font-weight="normal" text-anchor="middle" fill="#111" stroke="#111" stroke-width="0.1">Control</text>
<text transform="translate(88.25,819.40) scale(1.2,1)" font-family="Liberation Sans, sans-serif" font-size="5.2" font-weight="normal" text-anchor="middle" fill="#111" stroke="#111" stroke-width="0.1">Goat IgG</text>
<text transform="translate(135.40,819.40) scale(1.02,1)" font-family="Liberation Sans, sans-serif" font-size="5.0" font-weight="bold" text-anchor="middle" fill="#222" >3</text>
<text transform="translate(173.50,819.40) scale(1.02,1)" font-family="Liberation Sans, sans-serif" font-size="5.0" font-weight="bold" text-anchor="middle" fill="#222" >30</text>
<text transform="translate(220.20,819.40) scale(1.02,1)" font-family="Liberation Sans, sans-serif" font-size="5.0" font-weight="bold" text-anchor="middle" fill="#222" >300</text>
<text transform="translate(88.85,826.60) scale(1.15,1)" font-family="Liberation Sans, sans-serif" font-size="5.2" font-weight="normal" text-anchor="middle" fill="#111" stroke="#111" stroke-width="0.1">(300ug/ml)</text>
<path d="M120.00 821.80H225.40" stroke="#bbb" stroke-width="0.8"/>
<text transform="translate(180.20,829.30) scale(1.13,1)" font-family="Liberation Sans, sans-serif" font-size="5.2" font-weight="normal" text-anchor="middle" fill="#111" stroke="#111" stroke-width="0.12">Anti-PTN (ug/ml)</text>
<text transform="translate(202.3,750.0) scale(1.0,1)" font-family="Liberation Sans, sans-serif" font-size="4.5" font-weight="normal" text-anchor="start" fill="#808080" >P&lt;0.05</text>
<rect x="309.10" y="743.15" width="12.50" height="66.45" fill="#fff" stroke="#000" stroke-width="1"/>
<rect x="321.60" y="742.95" width="12.90" height="66.65" fill="#050505"/>
<rect x="351.60" y="746.95" width="12.50" height="62.65" fill="#fff" stroke="#000" stroke-width="1"/>
<rect x="364.10" y="750.25" width="12.90" height="59.35" fill="#050505"/>
<rect x="393.80" y="749.45" width="12.50" height="60.15" fill="#fff" stroke="#000" stroke-width="1"/>
<rect x="406.30" y="751.15" width="12.90" height="58.45" fill="#050505"/>
<rect x="436.30" y="750.45" width="12.50" height="59.15" fill="#fff" stroke="#000" stroke-width="1"/>
<rect x="448.80" y="754.05" width="12.90" height="55.55" fill="#050505"/>
<rect x="478.20" y="768.75" width="12.50" height="40.85" fill="#fff" stroke="#000" stroke-width="1"/>
<rect x="490.70" y="764.85" width="12.90" height="44.75" fill="#050505"/>
<path d="M300.40 730.30V809.60H514.00" stroke="#000" stroke-width="1.2" fill="none"/>
<path d="M298.20 809.60H300.20" stroke="#111" stroke-width="0.8"/>
<text transform="translate(297.00,811.40) scale(1.08,1)" font-family="Liberation Sans, sans-serif" font-size="5.1" font-weight="normal" text-anchor="end" fill="#000" stroke="#000" stroke-width="0.12">0</text>
<path d="M298.20 796.38H300.20" stroke="#111" stroke-width="0.8"/>
<text transform="translate(297.00,798.18) scale(1.08,1)" font-family="Liberation Sans, sans-serif" font-size="5.1" font-weight="normal" text-anchor="end" fill="#000" stroke="#000" stroke-width="0.12">20</text>
<path d="M298.20 783.17H300.20" stroke="#111" stroke-width="0.8"/>
<text transform="translate(297.00,784.97) scale(1.08,1)" font-family="Liberation Sans, sans-serif" font-size="5.1" font-weight="normal" text-anchor="end" fill="#000" stroke="#000" stroke-width="0.12">40</text>
<path d="M298.20 769.95H300.20" stroke="#111" stroke-width="0.8"/>
<text transform="translate(297.00,771.75) scale(1.08,1)" font-family="Liberation Sans, sans-serif" font-size="5.1" font-weight="normal" text-anchor="end" fill="#000" stroke="#000" stroke-width="0.12">60</text>
<path d="M298.20 756.73H300.20" stroke="#111" stroke-width="0.8"/>
<text transform="translate(297.00,758.53) scale(1.08,1)" font-family="Liberation Sans, sans-serif" font-size="5.1" font-weight="normal" text-anchor="end" fill="#000" stroke="#000" stroke-width="0.12">80</text>
<path d="M298.20 743.52H300.20" stroke="#111" stroke-width="0.8"/>
<text transform="translate(297.00,745.32) scale(1.08,1)" font-family="Liberation Sans, sans-serif" font-size="5.1" font-weight="normal" text-anchor="end" fill="#000" stroke="#000" stroke-width="0.12">100</text>
<path d="M298.20 730.30H300.20" stroke="#111" stroke-width="0.8"/>
<text transform="translate(297.00,732.10) scale(1.08,1)" font-family="Liberation Sans, sans-serif" font-size="5.1" font-weight="normal" text-anchor="end" fill="#000" stroke="#000" stroke-width="0.12">120</text>
<path d="M342.85 809.30v1.6" stroke="#111" stroke-width="0.9"/>
<path d="M385.35 809.30v1.6" stroke="#111" stroke-width="0.9"/>
<path d="M427.85 809.30v1.6" stroke="#111" stroke-width="0.9"/>
<path d="M470.35 809.30v1.6" stroke="#111" stroke-width="0.9"/>
<path d="M512.85 809.30v1.6" stroke="#111" stroke-width="0.9"/>
<text transform="translate(283.60,769.95) rotate(-90) scale(1.15,1)" font-family="Liberation Sans, sans-serif" font-size="5.3" text-anchor="middle" fill="#222">% viable cell recovery</text>
<text x="278.6" y="722.6" font-family="Liberation Sans, sans-serif" font-size="10.2" font-weight="bold" fill="#000" textLength="39.2" lengthAdjust="spacingAndGlyphs" stroke="#000" stroke-width="0.25">MM BM</text>
<rect x="473.95" y="714.45" width="9.2" height="9.1" fill="#fff" stroke="#111" stroke-width="1.1"/>
<rect x="473.40" y="728.60" width="10.3" height="10.1" fill="#050505"/>
<text x="486.50" y="722.90" font-family="Liberation Sans, sans-serif" font-size="11.7" font-weight="bold" stroke="#000" stroke-width="0.3" textLength="19.5" lengthAdjust="spacingAndGlyphs">48h</text>
<text x="486.50" y="738.00" font-family="Liberation Sans, sans-serif" font-size="11.7" font-weight="bold" stroke="#000" stroke-width="0.3" textLength="19.5" lengthAdjust="spacingAndGlyphs">72h</text>
<text transform="translate(321.60,820.00) scale(1.2,1)" font-family="Liberation Sans, sans-serif" font-size="5.2" font-weight="normal" text-anchor="middle" fill="#111" stroke="#111" stroke-width="0.1">Control</text>
<text transform="translate(363.50,820.00) scale(1.2,1)" font-family="Liberation Sans, sans-serif" font-size="5.2" font-weight="normal" text-anchor="middle" fill="#111" stroke="#111" stroke-width="0.1">Goat IgG</text>
<text transform="translate(412.30,820.00) scale(1.02,1)" font-family="Liberation Sans, sans-serif" font-size="5.0" font-weight="bold" text-anchor="middle" fill="#222" >3</text>
<text transform="translate(450.50,820.00) scale(1.02,1)" font-family="Liberation Sans, sans-serif" font-size="5.0" font-weight="bold" text-anchor="middle" fill="#222" >30</text>
<text transform="translate(496.30,820.00) scale(1.02,1)" font-family="Liberation Sans, sans-serif" font-size="5.0" font-weight="bold" text-anchor="middle" fill="#222" >300</text>
<text transform="translate(364.10,827.20) scale(1.15,1)" font-family="Liberation Sans, sans-serif" font-size="5.2" font-weight="normal" text-anchor="middle" fill="#111" stroke="#111" stroke-width="0.1">(300ug/ml)</text>
<path d="M397.50 822.40H503.90" stroke="#bbb" stroke-width="0.8"/>
<text transform="translate(458.20,829.90) scale(1.13,1)" font-family="Liberation Sans, sans-serif" font-size="5.2" font-weight="normal" text-anchor="middle" fill="#111" stroke="#111" stroke-width="0.12">Anti-PTN (ug/ml)</text>
<text transform="translate(473.7,763.2) scale(1.0,1)" font-family="Liberation Sans, sans-serif" font-size="4.5" font-weight="normal" text-anchor="start" fill="#808080" >P&lt;0.05</text>
<text transform="translate(494.4,755.9) scale(1.0,1)" font-family="Liberation Sans, sans-serif" font-size="4.5" font-weight="normal" text-anchor="start" fill="#808080" >P=0.06</text>
</g>
</svg>
</body></html>
